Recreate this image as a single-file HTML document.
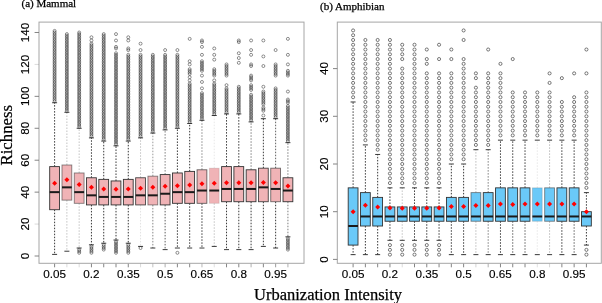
<!DOCTYPE html>
<html><head><meta charset="utf-8"><style>
html,body{margin:0;padding:0;background:#fff;width:602px;height:303px;overflow:hidden}
svg{display:block}
svg{will-change:transform;filter:blur(0.3px)}
</style></head><body>
<svg width="602" height="303" viewBox="0 0 602 303">
<rect width="602" height="303" fill="#fff"/>
<g fill="none" stroke="#222" stroke-width="0.5"><circle cx="54.6" cy="101.14" r="1.5"/><circle cx="54.6" cy="99.54" r="1.5"/><circle cx="54.6" cy="97.95" r="1.5"/><circle cx="54.6" cy="96.35" r="1.5"/><circle cx="54.6" cy="94.75" r="1.5"/><circle cx="54.6" cy="93.16" r="1.5"/><circle cx="54.6" cy="91.56" r="1.5"/><circle cx="54.6" cy="89.96" r="1.5"/><circle cx="54.6" cy="88.37" r="1.5"/><circle cx="54.6" cy="86.77" r="1.5"/><circle cx="54.6" cy="85.17" r="1.5"/><circle cx="54.6" cy="83.58" r="1.5"/><circle cx="54.6" cy="81.98" r="1.5"/><circle cx="54.6" cy="80.38" r="1.5"/><circle cx="54.6" cy="78.79" r="1.5"/><circle cx="54.6" cy="77.19" r="1.5"/><circle cx="54.6" cy="75.6" r="1.5"/><circle cx="54.6" cy="74" r="1.5"/><circle cx="54.6" cy="72.4" r="1.5"/><circle cx="54.6" cy="70.81" r="1.5"/><circle cx="54.6" cy="69.21" r="1.5"/><circle cx="54.6" cy="67.61" r="1.5"/><circle cx="54.6" cy="66.02" r="1.5"/><circle cx="54.6" cy="64.42" r="1.5"/><circle cx="54.6" cy="62.82" r="1.5"/><circle cx="54.6" cy="61.23" r="1.5"/><circle cx="54.6" cy="59.63" r="1.5"/><circle cx="54.6" cy="58.03" r="1.5"/><circle cx="54.6" cy="56.44" r="1.5"/><circle cx="54.6" cy="54.84" r="1.5"/><circle cx="54.6" cy="53.24" r="1.5"/><circle cx="54.6" cy="51.65" r="1.5"/><circle cx="54.6" cy="50.05" r="1.5"/><circle cx="54.6" cy="48.45" r="1.5"/><circle cx="54.6" cy="46.86" r="1.5"/><circle cx="54.6" cy="45.26" r="1.5"/><circle cx="54.6" cy="43.67" r="1.5"/><circle cx="54.6" cy="42.07" r="1.5"/><circle cx="54.6" cy="40.47" r="1.5"/><circle cx="54.6" cy="38.88" r="1.5"/><circle cx="54.6" cy="37.28" r="1.5"/><circle cx="54.6" cy="35.68" r="1.5"/><circle cx="54.6" cy="34.09" r="1.5"/><circle cx="54.6" cy="32.49" r="1.5"/><circle cx="54.6" cy="30.89" r="1.5"/><circle cx="66.88" cy="110.72" r="1.5"/><circle cx="66.88" cy="109.12" r="1.5"/><circle cx="66.88" cy="107.53" r="1.5"/><circle cx="66.88" cy="105.93" r="1.5"/><circle cx="66.88" cy="104.33" r="1.5"/><circle cx="66.88" cy="102.74" r="1.5"/><circle cx="66.88" cy="101.14" r="1.5"/><circle cx="66.88" cy="99.54" r="1.5"/><circle cx="66.88" cy="97.95" r="1.5"/><circle cx="66.88" cy="96.35" r="1.5"/><circle cx="66.88" cy="94.75" r="1.5"/><circle cx="66.88" cy="93.16" r="1.5"/><circle cx="66.88" cy="91.56" r="1.5"/><circle cx="66.88" cy="89.96" r="1.5"/><circle cx="66.88" cy="88.37" r="1.5"/><circle cx="66.88" cy="86.77" r="1.5"/><circle cx="66.88" cy="85.17" r="1.5"/><circle cx="66.88" cy="83.58" r="1.5"/><circle cx="66.88" cy="81.98" r="1.5"/><circle cx="66.88" cy="80.38" r="1.5"/><circle cx="66.88" cy="78.79" r="1.5"/><circle cx="66.88" cy="77.19" r="1.5"/><circle cx="66.88" cy="75.6" r="1.5"/><circle cx="66.88" cy="74" r="1.5"/><circle cx="66.88" cy="72.4" r="1.5"/><circle cx="66.88" cy="70.81" r="1.5"/><circle cx="66.88" cy="69.21" r="1.5"/><circle cx="66.88" cy="67.61" r="1.5"/><circle cx="66.88" cy="66.02" r="1.5"/><circle cx="66.88" cy="64.42" r="1.5"/><circle cx="66.88" cy="62.82" r="1.5"/><circle cx="66.88" cy="61.23" r="1.5"/><circle cx="66.88" cy="59.63" r="1.5"/><circle cx="66.88" cy="58.03" r="1.5"/><circle cx="66.88" cy="56.44" r="1.5"/><circle cx="66.88" cy="54.84" r="1.5"/><circle cx="66.88" cy="53.24" r="1.5"/><circle cx="66.88" cy="51.65" r="1.5"/><circle cx="66.88" cy="50.05" r="1.5"/><circle cx="66.88" cy="48.45" r="1.5"/><circle cx="66.88" cy="46.86" r="1.5"/><circle cx="66.88" cy="45.26" r="1.5"/><circle cx="66.88" cy="43.67" r="1.5"/><circle cx="66.88" cy="42.07" r="1.5"/><circle cx="66.88" cy="40.47" r="1.5"/><circle cx="66.88" cy="38.88" r="1.5"/><circle cx="66.88" cy="37.28" r="1.5"/><circle cx="66.88" cy="35.68" r="1.5"/><circle cx="66.88" cy="34.09" r="1.5"/><circle cx="79.16" cy="126.68" r="1.5"/><circle cx="79.16" cy="125.09" r="1.5"/><circle cx="79.16" cy="123.49" r="1.5"/><circle cx="79.16" cy="121.89" r="1.5"/><circle cx="79.16" cy="120.3" r="1.5"/><circle cx="79.16" cy="118.7" r="1.5"/><circle cx="79.16" cy="117.1" r="1.5"/><circle cx="79.16" cy="115.51" r="1.5"/><circle cx="79.16" cy="113.91" r="1.5"/><circle cx="79.16" cy="112.31" r="1.5"/><circle cx="79.16" cy="110.72" r="1.5"/><circle cx="79.16" cy="109.12" r="1.5"/><circle cx="79.16" cy="107.53" r="1.5"/><circle cx="79.16" cy="105.93" r="1.5"/><circle cx="79.16" cy="104.33" r="1.5"/><circle cx="79.16" cy="102.74" r="1.5"/><circle cx="79.16" cy="101.14" r="1.5"/><circle cx="79.16" cy="99.54" r="1.5"/><circle cx="79.16" cy="97.95" r="1.5"/><circle cx="79.16" cy="96.35" r="1.5"/><circle cx="79.16" cy="94.75" r="1.5"/><circle cx="79.16" cy="93.16" r="1.5"/><circle cx="79.16" cy="91.56" r="1.5"/><circle cx="79.16" cy="89.96" r="1.5"/><circle cx="79.16" cy="88.37" r="1.5"/><circle cx="79.16" cy="86.77" r="1.5"/><circle cx="79.16" cy="85.17" r="1.5"/><circle cx="79.16" cy="83.58" r="1.5"/><circle cx="79.16" cy="81.98" r="1.5"/><circle cx="79.16" cy="80.38" r="1.5"/><circle cx="79.16" cy="78.79" r="1.5"/><circle cx="79.16" cy="77.19" r="1.5"/><circle cx="79.16" cy="75.6" r="1.5"/><circle cx="79.16" cy="74" r="1.5"/><circle cx="79.16" cy="72.4" r="1.5"/><circle cx="79.16" cy="70.81" r="1.5"/><circle cx="79.16" cy="69.21" r="1.5"/><circle cx="79.16" cy="67.61" r="1.5"/><circle cx="79.16" cy="66.02" r="1.5"/><circle cx="79.16" cy="64.42" r="1.5"/><circle cx="79.16" cy="62.82" r="1.5"/><circle cx="79.16" cy="61.23" r="1.5"/><circle cx="79.16" cy="59.63" r="1.5"/><circle cx="79.16" cy="58.03" r="1.5"/><circle cx="79.16" cy="56.44" r="1.5"/><circle cx="79.16" cy="54.84" r="1.5"/><circle cx="79.16" cy="53.24" r="1.5"/><circle cx="79.16" cy="51.65" r="1.5"/><circle cx="79.16" cy="50.05" r="1.5"/><circle cx="79.16" cy="48.45" r="1.5"/><circle cx="79.16" cy="46.86" r="1.5"/><circle cx="79.16" cy="45.26" r="1.5"/><circle cx="79.16" cy="43.67" r="1.5"/><circle cx="79.16" cy="42.07" r="1.5"/><circle cx="79.16" cy="40.47" r="1.5"/><circle cx="79.16" cy="38.88" r="1.5"/><circle cx="79.16" cy="37.28" r="1.5"/><circle cx="79.16" cy="35.68" r="1.5"/><circle cx="79.16" cy="34.09" r="1.5"/><circle cx="79.16" cy="32.49" r="1.5"/><circle cx="79.16" cy="252.81" r="1.5"/><circle cx="79.16" cy="251.21" r="1.5"/><circle cx="79.16" cy="249.61" r="1.5"/><circle cx="91.44" cy="136.26" r="1.5"/><circle cx="91.44" cy="134.67" r="1.5"/><circle cx="91.44" cy="133.07" r="1.5"/><circle cx="91.44" cy="131.47" r="1.5"/><circle cx="91.44" cy="129.88" r="1.5"/><circle cx="91.44" cy="128.28" r="1.5"/><circle cx="91.44" cy="126.68" r="1.5"/><circle cx="91.44" cy="125.09" r="1.5"/><circle cx="91.44" cy="123.49" r="1.5"/><circle cx="91.44" cy="121.89" r="1.5"/><circle cx="91.44" cy="120.3" r="1.5"/><circle cx="91.44" cy="118.7" r="1.5"/><circle cx="91.44" cy="117.1" r="1.5"/><circle cx="91.44" cy="115.51" r="1.5"/><circle cx="91.44" cy="113.91" r="1.5"/><circle cx="91.44" cy="112.31" r="1.5"/><circle cx="91.44" cy="110.72" r="1.5"/><circle cx="91.44" cy="109.12" r="1.5"/><circle cx="91.44" cy="107.53" r="1.5"/><circle cx="91.44" cy="105.93" r="1.5"/><circle cx="91.44" cy="104.33" r="1.5"/><circle cx="91.44" cy="102.74" r="1.5"/><circle cx="91.44" cy="101.14" r="1.5"/><circle cx="91.44" cy="99.54" r="1.5"/><circle cx="91.44" cy="97.95" r="1.5"/><circle cx="91.44" cy="96.35" r="1.5"/><circle cx="91.44" cy="94.75" r="1.5"/><circle cx="91.44" cy="93.16" r="1.5"/><circle cx="91.44" cy="91.56" r="1.5"/><circle cx="91.44" cy="89.96" r="1.5"/><circle cx="91.44" cy="88.37" r="1.5"/><circle cx="91.44" cy="86.77" r="1.5"/><circle cx="91.44" cy="85.17" r="1.5"/><circle cx="91.44" cy="83.58" r="1.5"/><circle cx="91.44" cy="81.98" r="1.5"/><circle cx="91.44" cy="80.38" r="1.5"/><circle cx="91.44" cy="78.79" r="1.5"/><circle cx="91.44" cy="77.19" r="1.5"/><circle cx="91.44" cy="75.6" r="1.5"/><circle cx="91.44" cy="74" r="1.5"/><circle cx="91.44" cy="72.4" r="1.5"/><circle cx="91.44" cy="70.81" r="1.5"/><circle cx="91.44" cy="69.21" r="1.5"/><circle cx="91.44" cy="67.61" r="1.5"/><circle cx="91.44" cy="66.02" r="1.5"/><circle cx="91.44" cy="64.42" r="1.5"/><circle cx="91.44" cy="62.82" r="1.5"/><circle cx="91.44" cy="61.23" r="1.5"/><circle cx="91.44" cy="59.63" r="1.5"/><circle cx="91.44" cy="58.03" r="1.5"/><circle cx="91.44" cy="56.44" r="1.5"/><circle cx="91.44" cy="54.84" r="1.5"/><circle cx="91.44" cy="53.24" r="1.5"/><circle cx="91.44" cy="51.65" r="1.5"/><circle cx="91.44" cy="50.05" r="1.5"/><circle cx="91.44" cy="48.45" r="1.5"/><circle cx="91.44" cy="46.86" r="1.5"/><circle cx="91.44" cy="45.26" r="1.5"/><circle cx="91.44" cy="43.67" r="1.5"/><circle cx="91.44" cy="40.47" r="1.5"/><circle cx="91.44" cy="37.28" r="1.5"/><circle cx="91.44" cy="252.81" r="1.5"/><circle cx="91.44" cy="251.21" r="1.5"/><circle cx="91.44" cy="249.61" r="1.5"/><circle cx="91.44" cy="248.02" r="1.5"/><circle cx="91.44" cy="246.42" r="1.5"/><circle cx="103.72" cy="139.46" r="1.5"/><circle cx="103.72" cy="137.86" r="1.5"/><circle cx="103.72" cy="136.26" r="1.5"/><circle cx="103.72" cy="134.67" r="1.5"/><circle cx="103.72" cy="133.07" r="1.5"/><circle cx="103.72" cy="131.47" r="1.5"/><circle cx="103.72" cy="129.88" r="1.5"/><circle cx="103.72" cy="128.28" r="1.5"/><circle cx="103.72" cy="126.68" r="1.5"/><circle cx="103.72" cy="125.09" r="1.5"/><circle cx="103.72" cy="123.49" r="1.5"/><circle cx="103.72" cy="121.89" r="1.5"/><circle cx="103.72" cy="120.3" r="1.5"/><circle cx="103.72" cy="118.7" r="1.5"/><circle cx="103.72" cy="117.1" r="1.5"/><circle cx="103.72" cy="115.51" r="1.5"/><circle cx="103.72" cy="113.91" r="1.5"/><circle cx="103.72" cy="112.31" r="1.5"/><circle cx="103.72" cy="110.72" r="1.5"/><circle cx="103.72" cy="109.12" r="1.5"/><circle cx="103.72" cy="107.53" r="1.5"/><circle cx="103.72" cy="105.93" r="1.5"/><circle cx="103.72" cy="104.33" r="1.5"/><circle cx="103.72" cy="102.74" r="1.5"/><circle cx="103.72" cy="101.14" r="1.5"/><circle cx="103.72" cy="99.54" r="1.5"/><circle cx="103.72" cy="97.95" r="1.5"/><circle cx="103.72" cy="96.35" r="1.5"/><circle cx="103.72" cy="94.75" r="1.5"/><circle cx="103.72" cy="93.16" r="1.5"/><circle cx="103.72" cy="91.56" r="1.5"/><circle cx="103.72" cy="89.96" r="1.5"/><circle cx="103.72" cy="88.37" r="1.5"/><circle cx="103.72" cy="86.77" r="1.5"/><circle cx="103.72" cy="85.17" r="1.5"/><circle cx="103.72" cy="83.58" r="1.5"/><circle cx="103.72" cy="81.98" r="1.5"/><circle cx="103.72" cy="80.38" r="1.5"/><circle cx="103.72" cy="78.79" r="1.5"/><circle cx="103.72" cy="77.19" r="1.5"/><circle cx="103.72" cy="75.6" r="1.5"/><circle cx="103.72" cy="74" r="1.5"/><circle cx="103.72" cy="72.4" r="1.5"/><circle cx="103.72" cy="70.81" r="1.5"/><circle cx="103.72" cy="69.21" r="1.5"/><circle cx="103.72" cy="67.61" r="1.5"/><circle cx="103.72" cy="66.02" r="1.5"/><circle cx="103.72" cy="64.42" r="1.5"/><circle cx="103.72" cy="62.82" r="1.5"/><circle cx="103.72" cy="61.23" r="1.5"/><circle cx="103.72" cy="59.63" r="1.5"/><circle cx="103.72" cy="58.03" r="1.5"/><circle cx="103.72" cy="56.44" r="1.5"/><circle cx="103.72" cy="54.84" r="1.5"/><circle cx="103.72" cy="53.24" r="1.5"/><circle cx="103.72" cy="51.65" r="1.5"/><circle cx="103.72" cy="50.05" r="1.5"/><circle cx="103.72" cy="48.45" r="1.5"/><circle cx="103.72" cy="46.86" r="1.5"/><circle cx="103.72" cy="45.26" r="1.5"/><circle cx="103.72" cy="43.67" r="1.5"/><circle cx="103.72" cy="42.07" r="1.5"/><circle cx="103.72" cy="40.47" r="1.5"/><circle cx="103.72" cy="38.88" r="1.5"/><circle cx="103.72" cy="37.28" r="1.5"/><circle cx="103.72" cy="35.68" r="1.5"/><circle cx="103.72" cy="34.09" r="1.5"/><circle cx="103.72" cy="249.61" r="1.5"/><circle cx="103.72" cy="248.02" r="1.5"/><circle cx="103.72" cy="246.42" r="1.5"/><circle cx="103.72" cy="244.82" r="1.5"/><circle cx="116" cy="34.09" r="1.5"/><circle cx="116" cy="40.47" r="1.5"/><circle cx="116" cy="46.86" r="1.5"/><circle cx="116" cy="48.45" r="1.5"/><circle cx="116" cy="144.25" r="1.5"/><circle cx="116" cy="142.65" r="1.5"/><circle cx="116" cy="141.05" r="1.5"/><circle cx="116" cy="139.46" r="1.5"/><circle cx="116" cy="137.86" r="1.5"/><circle cx="116" cy="136.26" r="1.5"/><circle cx="116" cy="134.67" r="1.5"/><circle cx="116" cy="133.07" r="1.5"/><circle cx="116" cy="131.47" r="1.5"/><circle cx="116" cy="129.88" r="1.5"/><circle cx="116" cy="128.28" r="1.5"/><circle cx="116" cy="126.68" r="1.5"/><circle cx="116" cy="125.09" r="1.5"/><circle cx="116" cy="123.49" r="1.5"/><circle cx="116" cy="121.89" r="1.5"/><circle cx="116" cy="120.3" r="1.5"/><circle cx="116" cy="118.7" r="1.5"/><circle cx="116" cy="117.1" r="1.5"/><circle cx="116" cy="115.51" r="1.5"/><circle cx="116" cy="113.91" r="1.5"/><circle cx="116" cy="112.31" r="1.5"/><circle cx="116" cy="110.72" r="1.5"/><circle cx="116" cy="109.12" r="1.5"/><circle cx="116" cy="107.53" r="1.5"/><circle cx="116" cy="105.93" r="1.5"/><circle cx="116" cy="104.33" r="1.5"/><circle cx="116" cy="102.74" r="1.5"/><circle cx="116" cy="101.14" r="1.5"/><circle cx="116" cy="99.54" r="1.5"/><circle cx="116" cy="97.95" r="1.5"/><circle cx="116" cy="96.35" r="1.5"/><circle cx="116" cy="94.75" r="1.5"/><circle cx="116" cy="93.16" r="1.5"/><circle cx="116" cy="91.56" r="1.5"/><circle cx="116" cy="89.96" r="1.5"/><circle cx="116" cy="88.37" r="1.5"/><circle cx="116" cy="86.77" r="1.5"/><circle cx="116" cy="85.17" r="1.5"/><circle cx="116" cy="83.58" r="1.5"/><circle cx="116" cy="81.98" r="1.5"/><circle cx="116" cy="80.38" r="1.5"/><circle cx="116" cy="78.79" r="1.5"/><circle cx="116" cy="77.19" r="1.5"/><circle cx="116" cy="75.6" r="1.5"/><circle cx="116" cy="74" r="1.5"/><circle cx="116" cy="72.4" r="1.5"/><circle cx="116" cy="70.81" r="1.5"/><circle cx="116" cy="69.21" r="1.5"/><circle cx="116" cy="67.61" r="1.5"/><circle cx="116" cy="66.02" r="1.5"/><circle cx="116" cy="64.42" r="1.5"/><circle cx="116" cy="62.82" r="1.5"/><circle cx="116" cy="61.23" r="1.5"/><circle cx="116" cy="59.63" r="1.5"/><circle cx="116" cy="58.03" r="1.5"/><circle cx="116" cy="56.44" r="1.5"/><circle cx="116" cy="54.84" r="1.5"/><circle cx="116" cy="53.24" r="1.5"/><circle cx="116" cy="252.81" r="1.5"/><circle cx="116" cy="251.21" r="1.5"/><circle cx="116" cy="249.61" r="1.5"/><circle cx="116" cy="248.02" r="1.5"/><circle cx="116" cy="246.42" r="1.5"/><circle cx="116" cy="244.82" r="1.5"/><circle cx="116" cy="243.23" r="1.5"/><circle cx="116" cy="241.63" r="1.5"/><circle cx="128.28" cy="37.28" r="1.5"/><circle cx="128.28" cy="40.47" r="1.5"/><circle cx="128.28" cy="48.45" r="1.5"/><circle cx="128.28" cy="50.05" r="1.5"/><circle cx="128.28" cy="139.46" r="1.5"/><circle cx="128.28" cy="137.86" r="1.5"/><circle cx="128.28" cy="136.26" r="1.5"/><circle cx="128.28" cy="134.67" r="1.5"/><circle cx="128.28" cy="133.07" r="1.5"/><circle cx="128.28" cy="131.47" r="1.5"/><circle cx="128.28" cy="129.88" r="1.5"/><circle cx="128.28" cy="128.28" r="1.5"/><circle cx="128.28" cy="126.68" r="1.5"/><circle cx="128.28" cy="125.09" r="1.5"/><circle cx="128.28" cy="123.49" r="1.5"/><circle cx="128.28" cy="121.89" r="1.5"/><circle cx="128.28" cy="120.3" r="1.5"/><circle cx="128.28" cy="118.7" r="1.5"/><circle cx="128.28" cy="117.1" r="1.5"/><circle cx="128.28" cy="115.51" r="1.5"/><circle cx="128.28" cy="113.91" r="1.5"/><circle cx="128.28" cy="112.31" r="1.5"/><circle cx="128.28" cy="110.72" r="1.5"/><circle cx="128.28" cy="109.12" r="1.5"/><circle cx="128.28" cy="107.53" r="1.5"/><circle cx="128.28" cy="105.93" r="1.5"/><circle cx="128.28" cy="104.33" r="1.5"/><circle cx="128.28" cy="102.74" r="1.5"/><circle cx="128.28" cy="101.14" r="1.5"/><circle cx="128.28" cy="99.54" r="1.5"/><circle cx="128.28" cy="97.95" r="1.5"/><circle cx="128.28" cy="96.35" r="1.5"/><circle cx="128.28" cy="94.75" r="1.5"/><circle cx="128.28" cy="93.16" r="1.5"/><circle cx="128.28" cy="91.56" r="1.5"/><circle cx="128.28" cy="89.96" r="1.5"/><circle cx="128.28" cy="88.37" r="1.5"/><circle cx="128.28" cy="86.77" r="1.5"/><circle cx="128.28" cy="85.17" r="1.5"/><circle cx="128.28" cy="83.58" r="1.5"/><circle cx="128.28" cy="81.98" r="1.5"/><circle cx="128.28" cy="80.38" r="1.5"/><circle cx="128.28" cy="78.79" r="1.5"/><circle cx="128.28" cy="77.19" r="1.5"/><circle cx="128.28" cy="75.6" r="1.5"/><circle cx="128.28" cy="74" r="1.5"/><circle cx="128.28" cy="72.4" r="1.5"/><circle cx="128.28" cy="70.81" r="1.5"/><circle cx="128.28" cy="69.21" r="1.5"/><circle cx="128.28" cy="67.61" r="1.5"/><circle cx="128.28" cy="66.02" r="1.5"/><circle cx="128.28" cy="64.42" r="1.5"/><circle cx="128.28" cy="62.82" r="1.5"/><circle cx="128.28" cy="61.23" r="1.5"/><circle cx="128.28" cy="59.63" r="1.5"/><circle cx="128.28" cy="58.03" r="1.5"/><circle cx="128.28" cy="56.44" r="1.5"/><circle cx="128.28" cy="54.84" r="1.5"/><circle cx="128.28" cy="252.81" r="1.5"/><circle cx="128.28" cy="251.21" r="1.5"/><circle cx="128.28" cy="249.61" r="1.5"/><circle cx="128.28" cy="248.02" r="1.5"/><circle cx="128.28" cy="246.42" r="1.5"/><circle cx="128.28" cy="244.82" r="1.5"/><circle cx="140.56" cy="43.67" r="1.5"/><circle cx="140.56" cy="50.05" r="1.5"/><circle cx="140.56" cy="136.26" r="1.5"/><circle cx="140.56" cy="134.67" r="1.5"/><circle cx="140.56" cy="133.07" r="1.5"/><circle cx="140.56" cy="131.47" r="1.5"/><circle cx="140.56" cy="129.88" r="1.5"/><circle cx="140.56" cy="128.28" r="1.5"/><circle cx="140.56" cy="126.68" r="1.5"/><circle cx="140.56" cy="125.09" r="1.5"/><circle cx="140.56" cy="123.49" r="1.5"/><circle cx="140.56" cy="121.89" r="1.5"/><circle cx="140.56" cy="120.3" r="1.5"/><circle cx="140.56" cy="118.7" r="1.5"/><circle cx="140.56" cy="117.1" r="1.5"/><circle cx="140.56" cy="115.51" r="1.5"/><circle cx="140.56" cy="113.91" r="1.5"/><circle cx="140.56" cy="112.31" r="1.5"/><circle cx="140.56" cy="110.72" r="1.5"/><circle cx="140.56" cy="109.12" r="1.5"/><circle cx="140.56" cy="107.53" r="1.5"/><circle cx="140.56" cy="105.93" r="1.5"/><circle cx="140.56" cy="104.33" r="1.5"/><circle cx="140.56" cy="102.74" r="1.5"/><circle cx="140.56" cy="101.14" r="1.5"/><circle cx="140.56" cy="99.54" r="1.5"/><circle cx="140.56" cy="97.95" r="1.5"/><circle cx="140.56" cy="96.35" r="1.5"/><circle cx="140.56" cy="94.75" r="1.5"/><circle cx="140.56" cy="93.16" r="1.5"/><circle cx="140.56" cy="91.56" r="1.5"/><circle cx="140.56" cy="89.96" r="1.5"/><circle cx="140.56" cy="88.37" r="1.5"/><circle cx="140.56" cy="86.77" r="1.5"/><circle cx="140.56" cy="85.17" r="1.5"/><circle cx="140.56" cy="83.58" r="1.5"/><circle cx="140.56" cy="81.98" r="1.5"/><circle cx="140.56" cy="80.38" r="1.5"/><circle cx="140.56" cy="78.79" r="1.5"/><circle cx="140.56" cy="77.19" r="1.5"/><circle cx="140.56" cy="75.6" r="1.5"/><circle cx="140.56" cy="74" r="1.5"/><circle cx="140.56" cy="72.4" r="1.5"/><circle cx="140.56" cy="70.81" r="1.5"/><circle cx="140.56" cy="69.21" r="1.5"/><circle cx="140.56" cy="67.61" r="1.5"/><circle cx="140.56" cy="66.02" r="1.5"/><circle cx="140.56" cy="64.42" r="1.5"/><circle cx="140.56" cy="62.82" r="1.5"/><circle cx="140.56" cy="61.23" r="1.5"/><circle cx="140.56" cy="59.63" r="1.5"/><circle cx="140.56" cy="58.03" r="1.5"/><circle cx="140.56" cy="56.44" r="1.5"/><circle cx="140.56" cy="54.84" r="1.5"/><circle cx="140.56" cy="248.02" r="1.5"/><circle cx="152.84" cy="131.47" r="1.5"/><circle cx="152.84" cy="129.88" r="1.5"/><circle cx="152.84" cy="128.28" r="1.5"/><circle cx="152.84" cy="126.68" r="1.5"/><circle cx="152.84" cy="125.09" r="1.5"/><circle cx="152.84" cy="123.49" r="1.5"/><circle cx="152.84" cy="121.89" r="1.5"/><circle cx="152.84" cy="120.3" r="1.5"/><circle cx="152.84" cy="118.7" r="1.5"/><circle cx="152.84" cy="117.1" r="1.5"/><circle cx="152.84" cy="115.51" r="1.5"/><circle cx="152.84" cy="113.91" r="1.5"/><circle cx="152.84" cy="112.31" r="1.5"/><circle cx="152.84" cy="110.72" r="1.5"/><circle cx="152.84" cy="109.12" r="1.5"/><circle cx="152.84" cy="107.53" r="1.5"/><circle cx="152.84" cy="105.93" r="1.5"/><circle cx="152.84" cy="104.33" r="1.5"/><circle cx="152.84" cy="102.74" r="1.5"/><circle cx="152.84" cy="101.14" r="1.5"/><circle cx="152.84" cy="99.54" r="1.5"/><circle cx="152.84" cy="97.95" r="1.5"/><circle cx="152.84" cy="96.35" r="1.5"/><circle cx="152.84" cy="94.75" r="1.5"/><circle cx="152.84" cy="93.16" r="1.5"/><circle cx="152.84" cy="91.56" r="1.5"/><circle cx="152.84" cy="89.96" r="1.5"/><circle cx="152.84" cy="88.37" r="1.5"/><circle cx="152.84" cy="86.77" r="1.5"/><circle cx="152.84" cy="85.17" r="1.5"/><circle cx="152.84" cy="83.58" r="1.5"/><circle cx="152.84" cy="81.98" r="1.5"/><circle cx="152.84" cy="80.38" r="1.5"/><circle cx="152.84" cy="78.79" r="1.5"/><circle cx="152.84" cy="77.19" r="1.5"/><circle cx="152.84" cy="75.6" r="1.5"/><circle cx="152.84" cy="74" r="1.5"/><circle cx="152.84" cy="72.4" r="1.5"/><circle cx="152.84" cy="70.81" r="1.5"/><circle cx="152.84" cy="69.21" r="1.5"/><circle cx="152.84" cy="67.61" r="1.5"/><circle cx="152.84" cy="66.02" r="1.5"/><circle cx="152.84" cy="64.42" r="1.5"/><circle cx="152.84" cy="62.82" r="1.5"/><circle cx="152.84" cy="61.23" r="1.5"/><circle cx="152.84" cy="59.63" r="1.5"/><circle cx="152.84" cy="58.03" r="1.5"/><circle cx="152.84" cy="56.44" r="1.5"/><circle cx="152.84" cy="54.84" r="1.5"/><circle cx="165.12" cy="50.05" r="1.5"/><circle cx="165.12" cy="128.28" r="1.5"/><circle cx="165.12" cy="126.68" r="1.5"/><circle cx="165.12" cy="125.09" r="1.5"/><circle cx="165.12" cy="123.49" r="1.5"/><circle cx="165.12" cy="121.89" r="1.5"/><circle cx="165.12" cy="120.3" r="1.5"/><circle cx="165.12" cy="118.7" r="1.5"/><circle cx="165.12" cy="117.1" r="1.5"/><circle cx="165.12" cy="115.51" r="1.5"/><circle cx="165.12" cy="113.91" r="1.5"/><circle cx="165.12" cy="112.31" r="1.5"/><circle cx="165.12" cy="110.72" r="1.5"/><circle cx="165.12" cy="109.12" r="1.5"/><circle cx="165.12" cy="107.53" r="1.5"/><circle cx="165.12" cy="105.93" r="1.5"/><circle cx="165.12" cy="104.33" r="1.5"/><circle cx="165.12" cy="102.74" r="1.5"/><circle cx="165.12" cy="101.14" r="1.5"/><circle cx="165.12" cy="99.54" r="1.5"/><circle cx="165.12" cy="97.95" r="1.5"/><circle cx="165.12" cy="96.35" r="1.5"/><circle cx="165.12" cy="94.75" r="1.5"/><circle cx="165.12" cy="93.16" r="1.5"/><circle cx="165.12" cy="91.56" r="1.5"/><circle cx="165.12" cy="89.96" r="1.5"/><circle cx="165.12" cy="88.37" r="1.5"/><circle cx="165.12" cy="86.77" r="1.5"/><circle cx="165.12" cy="85.17" r="1.5"/><circle cx="165.12" cy="83.58" r="1.5"/><circle cx="165.12" cy="81.98" r="1.5"/><circle cx="165.12" cy="80.38" r="1.5"/><circle cx="165.12" cy="78.79" r="1.5"/><circle cx="165.12" cy="77.19" r="1.5"/><circle cx="165.12" cy="75.6" r="1.5"/><circle cx="165.12" cy="74" r="1.5"/><circle cx="165.12" cy="72.4" r="1.5"/><circle cx="165.12" cy="70.81" r="1.5"/><circle cx="165.12" cy="69.21" r="1.5"/><circle cx="165.12" cy="67.61" r="1.5"/><circle cx="165.12" cy="66.02" r="1.5"/><circle cx="165.12" cy="64.42" r="1.5"/><circle cx="165.12" cy="62.82" r="1.5"/><circle cx="165.12" cy="61.23" r="1.5"/><circle cx="165.12" cy="59.63" r="1.5"/><circle cx="165.12" cy="58.03" r="1.5"/><circle cx="165.12" cy="56.44" r="1.5"/><circle cx="165.12" cy="54.84" r="1.5"/><circle cx="177.4" cy="50.05" r="1.5"/><circle cx="177.4" cy="126.68" r="1.5"/><circle cx="177.4" cy="125.09" r="1.5"/><circle cx="177.4" cy="123.49" r="1.5"/><circle cx="177.4" cy="121.89" r="1.5"/><circle cx="177.4" cy="120.3" r="1.5"/><circle cx="177.4" cy="118.7" r="1.5"/><circle cx="177.4" cy="117.1" r="1.5"/><circle cx="177.4" cy="115.51" r="1.5"/><circle cx="177.4" cy="113.91" r="1.5"/><circle cx="177.4" cy="112.31" r="1.5"/><circle cx="177.4" cy="110.72" r="1.5"/><circle cx="177.4" cy="109.12" r="1.5"/><circle cx="177.4" cy="107.53" r="1.5"/><circle cx="177.4" cy="105.93" r="1.5"/><circle cx="177.4" cy="104.33" r="1.5"/><circle cx="177.4" cy="102.74" r="1.5"/><circle cx="177.4" cy="101.14" r="1.5"/><circle cx="177.4" cy="99.54" r="1.5"/><circle cx="177.4" cy="97.95" r="1.5"/><circle cx="177.4" cy="96.35" r="1.5"/><circle cx="177.4" cy="94.75" r="1.5"/><circle cx="177.4" cy="93.16" r="1.5"/><circle cx="177.4" cy="91.56" r="1.5"/><circle cx="177.4" cy="89.96" r="1.5"/><circle cx="177.4" cy="88.37" r="1.5"/><circle cx="177.4" cy="86.77" r="1.5"/><circle cx="177.4" cy="85.17" r="1.5"/><circle cx="177.4" cy="83.58" r="1.5"/><circle cx="177.4" cy="81.98" r="1.5"/><circle cx="177.4" cy="80.38" r="1.5"/><circle cx="177.4" cy="78.79" r="1.5"/><circle cx="177.4" cy="77.19" r="1.5"/><circle cx="177.4" cy="75.6" r="1.5"/><circle cx="177.4" cy="74" r="1.5"/><circle cx="177.4" cy="72.4" r="1.5"/><circle cx="177.4" cy="70.81" r="1.5"/><circle cx="177.4" cy="69.21" r="1.5"/><circle cx="177.4" cy="67.61" r="1.5"/><circle cx="177.4" cy="66.02" r="1.5"/><circle cx="177.4" cy="64.42" r="1.5"/><circle cx="177.4" cy="62.82" r="1.5"/><circle cx="177.4" cy="61.23" r="1.5"/><circle cx="177.4" cy="59.63" r="1.5"/><circle cx="177.4" cy="58.03" r="1.5"/><circle cx="177.4" cy="56.44" r="1.5"/><circle cx="177.4" cy="54.84" r="1.5"/><circle cx="177.4" cy="252.81" r="1.5"/><circle cx="189.68" cy="38.88" r="1.5"/><circle cx="189.68" cy="61.23" r="1.5"/><circle cx="189.68" cy="64.42" r="1.5"/><circle cx="189.68" cy="74" r="1.5"/><circle cx="189.68" cy="72.4" r="1.5"/><circle cx="189.68" cy="70.81" r="1.5"/><circle cx="189.68" cy="69.21" r="1.5"/><circle cx="189.68" cy="77.19" r="1.5"/><circle cx="189.68" cy="80.38" r="1.5"/><circle cx="189.68" cy="83.58" r="1.5"/><circle cx="189.68" cy="121.89" r="1.5"/><circle cx="189.68" cy="120.3" r="1.5"/><circle cx="189.68" cy="118.7" r="1.5"/><circle cx="189.68" cy="117.1" r="1.5"/><circle cx="189.68" cy="115.51" r="1.5"/><circle cx="189.68" cy="113.91" r="1.5"/><circle cx="189.68" cy="112.31" r="1.5"/><circle cx="189.68" cy="110.72" r="1.5"/><circle cx="189.68" cy="109.12" r="1.5"/><circle cx="189.68" cy="107.53" r="1.5"/><circle cx="189.68" cy="105.93" r="1.5"/><circle cx="189.68" cy="104.33" r="1.5"/><circle cx="189.68" cy="102.74" r="1.5"/><circle cx="189.68" cy="101.14" r="1.5"/><circle cx="189.68" cy="99.54" r="1.5"/><circle cx="189.68" cy="97.95" r="1.5"/><circle cx="189.68" cy="96.35" r="1.5"/><circle cx="189.68" cy="94.75" r="1.5"/><circle cx="189.68" cy="93.16" r="1.5"/><circle cx="189.68" cy="91.56" r="1.5"/><circle cx="189.68" cy="89.96" r="1.5"/><circle cx="189.68" cy="88.37" r="1.5"/><circle cx="189.68" cy="86.77" r="1.5"/><circle cx="189.68" cy="85.17" r="1.5"/><circle cx="201.96" cy="40.47" r="1.5"/><circle cx="201.96" cy="42.07" r="1.5"/><circle cx="201.96" cy="46.86" r="1.5"/><circle cx="201.96" cy="54.84" r="1.5"/><circle cx="201.96" cy="70.81" r="1.5"/><circle cx="201.96" cy="69.21" r="1.5"/><circle cx="201.96" cy="67.61" r="1.5"/><circle cx="201.96" cy="66.02" r="1.5"/><circle cx="201.96" cy="64.42" r="1.5"/><circle cx="201.96" cy="62.82" r="1.5"/><circle cx="201.96" cy="61.23" r="1.5"/><circle cx="201.96" cy="75.6" r="1.5"/><circle cx="201.96" cy="81.98" r="1.5"/><circle cx="201.96" cy="88.37" r="1.5"/><circle cx="201.96" cy="118.7" r="1.5"/><circle cx="201.96" cy="117.1" r="1.5"/><circle cx="201.96" cy="115.51" r="1.5"/><circle cx="201.96" cy="113.91" r="1.5"/><circle cx="201.96" cy="112.31" r="1.5"/><circle cx="201.96" cy="110.72" r="1.5"/><circle cx="201.96" cy="109.12" r="1.5"/><circle cx="201.96" cy="107.53" r="1.5"/><circle cx="201.96" cy="105.93" r="1.5"/><circle cx="201.96" cy="104.33" r="1.5"/><circle cx="201.96" cy="102.74" r="1.5"/><circle cx="201.96" cy="101.14" r="1.5"/><circle cx="201.96" cy="99.54" r="1.5"/><circle cx="201.96" cy="97.95" r="1.5"/><circle cx="201.96" cy="96.35" r="1.5"/><circle cx="201.96" cy="94.75" r="1.5"/><circle cx="201.96" cy="93.16" r="1.5"/><circle cx="214.24" cy="48.45" r="1.5"/><circle cx="214.24" cy="54.84" r="1.5"/><circle cx="214.24" cy="59.63" r="1.5"/><circle cx="214.24" cy="75.6" r="1.5"/><circle cx="214.24" cy="74" r="1.5"/><circle cx="214.24" cy="72.4" r="1.5"/><circle cx="214.24" cy="70.81" r="1.5"/><circle cx="214.24" cy="69.21" r="1.5"/><circle cx="214.24" cy="80.38" r="1.5"/><circle cx="214.24" cy="113.91" r="1.5"/><circle cx="214.24" cy="112.31" r="1.5"/><circle cx="214.24" cy="110.72" r="1.5"/><circle cx="214.24" cy="109.12" r="1.5"/><circle cx="214.24" cy="107.53" r="1.5"/><circle cx="214.24" cy="105.93" r="1.5"/><circle cx="214.24" cy="104.33" r="1.5"/><circle cx="214.24" cy="102.74" r="1.5"/><circle cx="214.24" cy="101.14" r="1.5"/><circle cx="214.24" cy="99.54" r="1.5"/><circle cx="214.24" cy="97.95" r="1.5"/><circle cx="214.24" cy="96.35" r="1.5"/><circle cx="214.24" cy="94.75" r="1.5"/><circle cx="214.24" cy="93.16" r="1.5"/><circle cx="214.24" cy="91.56" r="1.5"/><circle cx="214.24" cy="89.96" r="1.5"/><circle cx="214.24" cy="88.37" r="1.5"/><circle cx="214.24" cy="86.77" r="1.5"/><circle cx="214.24" cy="85.17" r="1.5"/><circle cx="214.24" cy="83.58" r="1.5"/><circle cx="226.52" cy="75.6" r="1.5"/><circle cx="226.52" cy="74" r="1.5"/><circle cx="226.52" cy="72.4" r="1.5"/><circle cx="226.52" cy="70.81" r="1.5"/><circle cx="226.52" cy="69.21" r="1.5"/><circle cx="226.52" cy="67.61" r="1.5"/><circle cx="226.52" cy="66.02" r="1.5"/><circle cx="226.52" cy="64.42" r="1.5"/><circle cx="226.52" cy="85.17" r="1.5"/><circle cx="226.52" cy="112.31" r="1.5"/><circle cx="226.52" cy="110.72" r="1.5"/><circle cx="226.52" cy="109.12" r="1.5"/><circle cx="226.52" cy="107.53" r="1.5"/><circle cx="226.52" cy="105.93" r="1.5"/><circle cx="226.52" cy="104.33" r="1.5"/><circle cx="226.52" cy="102.74" r="1.5"/><circle cx="226.52" cy="101.14" r="1.5"/><circle cx="226.52" cy="99.54" r="1.5"/><circle cx="226.52" cy="97.95" r="1.5"/><circle cx="226.52" cy="96.35" r="1.5"/><circle cx="226.52" cy="94.75" r="1.5"/><circle cx="226.52" cy="93.16" r="1.5"/><circle cx="226.52" cy="91.56" r="1.5"/><circle cx="226.52" cy="89.96" r="1.5"/><circle cx="226.52" cy="88.37" r="1.5"/><circle cx="238.8" cy="40.47" r="1.5"/><circle cx="238.8" cy="42.07" r="1.5"/><circle cx="238.8" cy="53.24" r="1.5"/><circle cx="238.8" cy="58.03" r="1.5"/><circle cx="238.8" cy="62.82" r="1.5"/><circle cx="238.8" cy="112.31" r="1.5"/><circle cx="238.8" cy="110.72" r="1.5"/><circle cx="238.8" cy="109.12" r="1.5"/><circle cx="238.8" cy="107.53" r="1.5"/><circle cx="238.8" cy="105.93" r="1.5"/><circle cx="238.8" cy="104.33" r="1.5"/><circle cx="238.8" cy="102.74" r="1.5"/><circle cx="238.8" cy="101.14" r="1.5"/><circle cx="238.8" cy="99.54" r="1.5"/><circle cx="238.8" cy="97.95" r="1.5"/><circle cx="238.8" cy="96.35" r="1.5"/><circle cx="238.8" cy="94.75" r="1.5"/><circle cx="238.8" cy="93.16" r="1.5"/><circle cx="238.8" cy="91.56" r="1.5"/><circle cx="238.8" cy="89.96" r="1.5"/><circle cx="238.8" cy="88.37" r="1.5"/><circle cx="238.8" cy="86.77" r="1.5"/><circle cx="251.08" cy="40.47" r="1.5"/><circle cx="251.08" cy="50.05" r="1.5"/><circle cx="251.08" cy="54.84" r="1.5"/><circle cx="251.08" cy="64.42" r="1.5"/><circle cx="251.08" cy="66.02" r="1.5"/><circle cx="251.08" cy="80.38" r="1.5"/><circle cx="251.08" cy="78.79" r="1.5"/><circle cx="251.08" cy="77.19" r="1.5"/><circle cx="251.08" cy="75.6" r="1.5"/><circle cx="251.08" cy="89.96" r="1.5"/><circle cx="251.08" cy="88.37" r="1.5"/><circle cx="251.08" cy="86.77" r="1.5"/><circle cx="251.08" cy="85.17" r="1.5"/><circle cx="251.08" cy="94.75" r="1.5"/><circle cx="251.08" cy="120.3" r="1.5"/><circle cx="251.08" cy="118.7" r="1.5"/><circle cx="251.08" cy="117.1" r="1.5"/><circle cx="251.08" cy="115.51" r="1.5"/><circle cx="251.08" cy="113.91" r="1.5"/><circle cx="251.08" cy="112.31" r="1.5"/><circle cx="251.08" cy="110.72" r="1.5"/><circle cx="251.08" cy="109.12" r="1.5"/><circle cx="251.08" cy="107.53" r="1.5"/><circle cx="251.08" cy="105.93" r="1.5"/><circle cx="251.08" cy="104.33" r="1.5"/><circle cx="251.08" cy="102.74" r="1.5"/><circle cx="251.08" cy="101.14" r="1.5"/><circle cx="251.08" cy="99.54" r="1.5"/><circle cx="251.08" cy="97.95" r="1.5"/><circle cx="251.08" cy="96.35" r="1.5"/><circle cx="263.36" cy="40.47" r="1.5"/><circle cx="263.36" cy="56.44" r="1.5"/><circle cx="263.36" cy="66.02" r="1.5"/><circle cx="263.36" cy="86.77" r="1.5"/><circle cx="263.36" cy="104.33" r="1.5"/><circle cx="263.36" cy="102.74" r="1.5"/><circle cx="263.36" cy="101.14" r="1.5"/><circle cx="263.36" cy="99.54" r="1.5"/><circle cx="263.36" cy="97.95" r="1.5"/><circle cx="263.36" cy="96.35" r="1.5"/><circle cx="263.36" cy="94.75" r="1.5"/><circle cx="263.36" cy="93.16" r="1.5"/><circle cx="263.36" cy="91.56" r="1.5"/><circle cx="263.36" cy="110.72" r="1.5"/><circle cx="263.36" cy="109.12" r="1.5"/><circle cx="263.36" cy="107.53" r="1.5"/><circle cx="263.36" cy="115.51" r="1.5"/><circle cx="275.64" cy="50.05" r="1.5"/><circle cx="275.64" cy="75.6" r="1.5"/><circle cx="275.64" cy="74" r="1.5"/><circle cx="275.64" cy="72.4" r="1.5"/><circle cx="275.64" cy="70.81" r="1.5"/><circle cx="275.64" cy="69.21" r="1.5"/><circle cx="275.64" cy="67.61" r="1.5"/><circle cx="275.64" cy="66.02" r="1.5"/><circle cx="275.64" cy="64.42" r="1.5"/><circle cx="275.64" cy="117.1" r="1.5"/><circle cx="275.64" cy="115.51" r="1.5"/><circle cx="275.64" cy="113.91" r="1.5"/><circle cx="275.64" cy="112.31" r="1.5"/><circle cx="275.64" cy="110.72" r="1.5"/><circle cx="275.64" cy="109.12" r="1.5"/><circle cx="275.64" cy="107.53" r="1.5"/><circle cx="275.64" cy="105.93" r="1.5"/><circle cx="275.64" cy="104.33" r="1.5"/><circle cx="275.64" cy="102.74" r="1.5"/><circle cx="275.64" cy="101.14" r="1.5"/><circle cx="275.64" cy="99.54" r="1.5"/><circle cx="275.64" cy="97.95" r="1.5"/><circle cx="275.64" cy="96.35" r="1.5"/><circle cx="275.64" cy="94.75" r="1.5"/><circle cx="275.64" cy="93.16" r="1.5"/><circle cx="275.64" cy="91.56" r="1.5"/><circle cx="275.64" cy="89.96" r="1.5"/><circle cx="275.64" cy="88.37" r="1.5"/><circle cx="287.92" cy="38.88" r="1.5"/><circle cx="287.92" cy="54.84" r="1.5"/><circle cx="287.92" cy="64.42" r="1.5"/><circle cx="287.92" cy="75.6" r="1.5"/><circle cx="287.92" cy="74" r="1.5"/><circle cx="287.92" cy="72.4" r="1.5"/><circle cx="287.92" cy="70.81" r="1.5"/><circle cx="287.92" cy="91.56" r="1.5"/><circle cx="287.92" cy="102.74" r="1.5"/><circle cx="287.92" cy="101.14" r="1.5"/><circle cx="287.92" cy="99.54" r="1.5"/><circle cx="287.92" cy="141.05" r="1.5"/><circle cx="287.92" cy="139.46" r="1.5"/><circle cx="287.92" cy="137.86" r="1.5"/><circle cx="287.92" cy="136.26" r="1.5"/><circle cx="287.92" cy="134.67" r="1.5"/><circle cx="287.92" cy="133.07" r="1.5"/><circle cx="287.92" cy="131.47" r="1.5"/><circle cx="287.92" cy="129.88" r="1.5"/><circle cx="287.92" cy="128.28" r="1.5"/><circle cx="287.92" cy="126.68" r="1.5"/><circle cx="287.92" cy="125.09" r="1.5"/><circle cx="287.92" cy="123.49" r="1.5"/><circle cx="287.92" cy="121.89" r="1.5"/><circle cx="287.92" cy="120.3" r="1.5"/><circle cx="287.92" cy="118.7" r="1.5"/><circle cx="287.92" cy="117.1" r="1.5"/><circle cx="287.92" cy="115.51" r="1.5"/><circle cx="287.92" cy="113.91" r="1.5"/><circle cx="287.92" cy="112.31" r="1.5"/><circle cx="287.92" cy="110.72" r="1.5"/><circle cx="287.92" cy="109.12" r="1.5"/><circle cx="287.92" cy="107.53" r="1.5"/><circle cx="287.92" cy="105.93" r="1.5"/><circle cx="287.92" cy="249.61" r="1.5"/><circle cx="287.92" cy="248.02" r="1.5"/><circle cx="287.92" cy="246.42" r="1.5"/><circle cx="287.92" cy="244.82" r="1.5"/><circle cx="287.92" cy="243.23" r="1.5"/><circle cx="287.92" cy="241.63" r="1.5"/><circle cx="287.92" cy="240.03" r="1.5"/><circle cx="287.92" cy="238.44" r="1.5"/></g><g stroke="#222" stroke-width="0.9" stroke-dasharray="1.5 1.5"><line x1="54.6" y1="166.6" x2="54.6" y2="102.74" stroke-opacity="1"/><line x1="54.6" y1="209.7" x2="54.6" y2="254.4" stroke-opacity="1"/><line x1="66.88" y1="165" x2="66.88" y2="112.31" stroke-opacity="0.3"/><line x1="66.88" y1="200.12" x2="66.88" y2="251.21" stroke-opacity="0.3"/><line x1="79.16" y1="172.98" x2="79.16" y2="128.28" stroke-opacity="0.3"/><line x1="79.16" y1="203.32" x2="79.16" y2="248.02" stroke-opacity="0.3"/><line x1="91.44" y1="177.77" x2="91.44" y2="137.86" stroke-opacity="1"/><line x1="91.44" y1="204.91" x2="91.44" y2="244.82" stroke-opacity="1"/><line x1="103.72" y1="179.37" x2="103.72" y2="141.05" stroke-opacity="1"/><line x1="103.72" y1="204.91" x2="103.72" y2="243.23" stroke-opacity="1"/><line x1="116" y1="180.96" x2="116" y2="145.84" stroke-opacity="1"/><line x1="116" y1="204.91" x2="116" y2="240.03" stroke-opacity="1"/><line x1="128.28" y1="179.37" x2="128.28" y2="141.05" stroke-opacity="1"/><line x1="128.28" y1="204.91" x2="128.28" y2="243.23" stroke-opacity="1"/><line x1="140.56" y1="177.77" x2="140.56" y2="137.86" stroke-opacity="0.3"/><line x1="140.56" y1="204.91" x2="140.56" y2="246.42" stroke-opacity="0.15"/><line x1="152.84" y1="176.18" x2="152.84" y2="133.07" stroke-opacity="0.5"/><line x1="152.84" y1="204.91" x2="152.84" y2="248.02" stroke-opacity="0.6"/><line x1="165.12" y1="174.58" x2="165.12" y2="129.88" stroke-opacity="0.65"/><line x1="165.12" y1="204.91" x2="165.12" y2="249.61" stroke-opacity="0.8"/><line x1="177.4" y1="172.98" x2="177.4" y2="128.28" stroke-opacity="1"/><line x1="177.4" y1="203.32" x2="177.4" y2="248.02" stroke-opacity="1"/><line x1="189.68" y1="171.39" x2="189.68" y2="123.49" stroke-opacity="1"/><line x1="189.68" y1="203.32" x2="189.68" y2="248.02" stroke-opacity="1"/><line x1="201.96" y1="169.79" x2="201.96" y2="120.3" stroke-opacity="0.6"/><line x1="201.96" y1="203.32" x2="201.96" y2="248.02" stroke-opacity="1"/><line x1="214.24" y1="168.19" x2="214.24" y2="115.51" stroke-opacity="0.12"/><line x1="214.24" y1="203.32" x2="214.24" y2="246.42" stroke-opacity="0.3"/><line x1="226.52" y1="166.6" x2="226.52" y2="113.91" stroke-opacity="1"/><line x1="226.52" y1="201.72" x2="226.52" y2="249.61" stroke-opacity="1"/><line x1="238.8" y1="166.6" x2="238.8" y2="113.91" stroke-opacity="1"/><line x1="238.8" y1="201.72" x2="238.8" y2="249.61" stroke-opacity="1"/><line x1="251.08" y1="169.79" x2="251.08" y2="121.89" stroke-opacity="0.65"/><line x1="251.08" y1="201.72" x2="251.08" y2="249.61" stroke-opacity="1"/><line x1="263.36" y1="168.19" x2="263.36" y2="118.7" stroke-opacity="1"/><line x1="263.36" y1="201.72" x2="263.36" y2="246.42" stroke-opacity="1"/><line x1="275.64" y1="168.19" x2="275.64" y2="118.7" stroke-opacity="0.8"/><line x1="275.64" y1="201.72" x2="275.64" y2="248.02" stroke-opacity="1"/><line x1="287.92" y1="177.77" x2="287.92" y2="142.65" stroke-opacity="0.65"/><line x1="287.92" y1="201.72" x2="287.92" y2="236.84" stroke-opacity="0.65"/></g><g stroke="#222" stroke-width="0.9"><line x1="52.1" y1="102.74" x2="57.1" y2="102.74"/><line x1="52.1" y1="254.4" x2="57.1" y2="254.4"/><line x1="64.38" y1="112.31" x2="69.38" y2="112.31"/><line x1="64.38" y1="251.21" x2="69.38" y2="251.21"/><line x1="76.66" y1="128.28" x2="81.66" y2="128.28"/><line x1="76.66" y1="248.02" x2="81.66" y2="248.02"/><line x1="88.94" y1="137.86" x2="93.94" y2="137.86"/><line x1="88.94" y1="244.82" x2="93.94" y2="244.82"/><line x1="101.22" y1="141.05" x2="106.22" y2="141.05"/><line x1="101.22" y1="243.23" x2="106.22" y2="243.23"/><line x1="113.5" y1="145.84" x2="118.5" y2="145.84"/><line x1="113.5" y1="240.03" x2="118.5" y2="240.03"/><line x1="125.78" y1="141.05" x2="130.78" y2="141.05"/><line x1="125.78" y1="243.23" x2="130.78" y2="243.23"/><line x1="138.06" y1="137.86" x2="143.06" y2="137.86"/><line x1="138.06" y1="246.42" x2="143.06" y2="246.42"/><line x1="150.34" y1="133.07" x2="155.34" y2="133.07"/><line x1="150.34" y1="248.02" x2="155.34" y2="248.02"/><line x1="162.62" y1="129.88" x2="167.62" y2="129.88"/><line x1="162.62" y1="249.61" x2="167.62" y2="249.61"/><line x1="174.9" y1="128.28" x2="179.9" y2="128.28"/><line x1="174.9" y1="248.02" x2="179.9" y2="248.02"/><line x1="187.18" y1="123.49" x2="192.18" y2="123.49"/><line x1="187.18" y1="248.02" x2="192.18" y2="248.02"/><line x1="199.46" y1="120.3" x2="204.46" y2="120.3"/><line x1="199.46" y1="248.02" x2="204.46" y2="248.02"/><line x1="211.74" y1="115.51" x2="216.74" y2="115.51"/><line x1="211.74" y1="246.42" x2="216.74" y2="246.42"/><line x1="224.02" y1="113.91" x2="229.02" y2="113.91"/><line x1="224.02" y1="249.61" x2="229.02" y2="249.61"/><line x1="236.3" y1="113.91" x2="241.3" y2="113.91"/><line x1="236.3" y1="249.61" x2="241.3" y2="249.61"/><line x1="248.58" y1="121.89" x2="253.58" y2="121.89"/><line x1="248.58" y1="249.61" x2="253.58" y2="249.61"/><line x1="260.86" y1="118.7" x2="265.86" y2="118.7"/><line x1="260.86" y1="246.42" x2="265.86" y2="246.42"/><line x1="273.14" y1="118.7" x2="278.14" y2="118.7"/><line x1="273.14" y1="248.02" x2="278.14" y2="248.02"/><line x1="285.42" y1="142.65" x2="290.42" y2="142.65"/><line x1="285.42" y1="236.84" x2="290.42" y2="236.84"/></g><g fill="#f0b3b6" stroke="#333" stroke-width="0.9"><rect x="49.7" y="166.6" width="9.8" height="43.11" stroke-opacity="1"/><rect x="61.98" y="165" width="9.8" height="35.12" stroke-opacity="0.6"/><rect x="74.26" y="172.98" width="9.8" height="30.33" stroke-opacity="0.6"/><rect x="86.54" y="177.77" width="9.8" height="27.14" stroke-opacity="1"/><rect x="98.82" y="179.37" width="9.8" height="25.54" stroke-opacity="1"/><rect x="111.1" y="180.96" width="9.8" height="23.95" stroke-opacity="1"/><rect x="123.38" y="179.37" width="9.8" height="25.54" stroke-opacity="1"/><rect x="135.66" y="177.77" width="9.8" height="27.14" stroke-opacity="0.9"/><rect x="147.94" y="176.18" width="9.8" height="28.74" stroke-opacity="0.6"/><rect x="160.22" y="174.58" width="9.8" height="30.33" stroke-opacity="1"/><rect x="172.5" y="172.98" width="9.8" height="30.33" stroke-opacity="1"/><rect x="184.78" y="171.39" width="9.8" height="31.93" stroke-opacity="1"/><rect x="197.06" y="169.79" width="9.8" height="33.53" stroke-opacity="0.75"/><rect x="209.34" y="168.19" width="9.8" height="35.12" stroke-opacity="0.15"/><rect x="221.62" y="166.6" width="9.8" height="35.12" stroke-opacity="1"/><rect x="233.9" y="166.6" width="9.8" height="35.12" stroke-opacity="1"/><rect x="246.18" y="169.79" width="9.8" height="31.93" stroke-opacity="1"/><rect x="258.46" y="168.19" width="9.8" height="33.53" stroke-opacity="0.9"/><rect x="270.74" y="168.19" width="9.8" height="33.53" stroke-opacity="0.7"/><rect x="283.02" y="177.77" width="9.8" height="23.95" stroke-opacity="1"/></g><g stroke="#1a1a1a" stroke-width="2"><line x1="49.7" y1="192.14" x2="59.5" y2="192.14"/><line x1="61.98" y1="187.35" x2="71.78" y2="187.35"/><line x1="74.26" y1="192.14" x2="84.06" y2="192.14"/><line x1="86.54" y1="195.33" x2="96.34" y2="195.33"/><line x1="98.82" y1="196.93" x2="108.62" y2="196.93"/><line x1="111.1" y1="196.93" x2="120.9" y2="196.93"/><line x1="123.38" y1="196.93" x2="133.18" y2="196.93"/><line x1="135.66" y1="195.33" x2="145.46" y2="195.33"/><line x1="147.94" y1="195.33" x2="157.74" y2="195.33"/><line x1="160.22" y1="193.74" x2="170.02" y2="193.74"/><line x1="172.5" y1="192.14" x2="182.3" y2="192.14"/><line x1="184.78" y1="192.14" x2="194.58" y2="192.14"/><line x1="197.06" y1="190.54" x2="206.86" y2="190.54"/><line x1="209.34" y1="190.54" x2="219.14" y2="190.54"/><line x1="221.62" y1="188.95" x2="231.42" y2="188.95"/><line x1="233.9" y1="188.95" x2="243.7" y2="188.95"/><line x1="246.18" y1="188.95" x2="255.98" y2="188.95"/><line x1="258.46" y1="187.35" x2="268.26" y2="187.35"/><line x1="270.74" y1="188.95" x2="280.54" y2="188.95"/><line x1="283.02" y1="190.54" x2="292.82" y2="190.54"/></g><g fill="#ff0000"><path d="M54.6 180.86L57.1 183.36L54.6 185.86L52.1 183.36Z"/><path d="M66.88 177.19L69.38 179.69L66.88 182.19L64.38 179.69Z"/><path d="M79.16 181.98L81.66 184.48L79.16 186.98L76.66 184.48Z"/><path d="M91.44 184.85L93.94 187.35L91.44 189.85L88.94 187.35Z"/><path d="M103.72 186.45L106.22 188.95L103.72 191.45L101.22 188.95Z"/><path d="M116 186.77L118.5 189.27L116 191.77L113.5 189.27Z"/><path d="M128.28 186.45L130.78 188.95L128.28 191.45L125.78 188.95Z"/><path d="M140.56 185.65L143.06 188.15L140.56 190.65L138.06 188.15Z"/><path d="M152.84 184.85L155.34 187.35L152.84 189.85L150.34 187.35Z"/><path d="M165.12 183.73L167.62 186.23L165.12 188.73L162.62 186.23Z"/><path d="M177.4 183.25L179.9 185.75L177.4 188.25L174.9 185.75Z"/><path d="M189.68 182.46L192.18 184.96L189.68 187.46L187.18 184.96Z"/><path d="M201.96 181.18L204.46 183.68L201.96 186.18L199.46 183.68Z"/><path d="M214.24 180.7L216.74 183.2L214.24 185.7L211.74 183.2Z"/><path d="M226.52 180.22L229.02 182.72L226.52 185.22L224.02 182.72Z"/><path d="M238.8 180.22L241.3 182.72L238.8 185.22L236.3 182.72Z"/><path d="M251.08 180.22L253.58 182.72L251.08 185.22L248.58 182.72Z"/><path d="M263.36 180.06L265.86 182.56L263.36 185.06L260.86 182.56Z"/><path d="M275.64 180.22L278.14 182.72L275.64 185.22L273.14 182.72Z"/><path d="M287.92 183.57L290.42 186.07L287.92 188.57L285.42 186.07Z"/></g><g stroke="#777" stroke-width="0.9"><line x1="54.6" y1="263.3" x2="54.6" y2="267.3" stroke-opacity="1"/><line x1="66.88" y1="263.3" x2="66.88" y2="267.3" stroke-opacity="0.3"/><line x1="79.16" y1="263.3" x2="79.16" y2="267.3" stroke-opacity="0.3"/><line x1="91.44" y1="263.3" x2="91.44" y2="267.3" stroke-opacity="1"/><line x1="103.72" y1="263.3" x2="103.72" y2="267.3" stroke-opacity="1"/><line x1="116" y1="263.3" x2="116" y2="267.3" stroke-opacity="1"/><line x1="128.28" y1="263.3" x2="128.28" y2="267.3" stroke-opacity="1"/><line x1="140.56" y1="263.3" x2="140.56" y2="267.3" stroke-opacity="0.3"/><line x1="152.84" y1="263.3" x2="152.84" y2="267.3" stroke-opacity="0.5"/><line x1="165.12" y1="263.3" x2="165.12" y2="267.3" stroke-opacity="0.65"/><line x1="177.4" y1="263.3" x2="177.4" y2="267.3" stroke-opacity="1"/><line x1="189.68" y1="263.3" x2="189.68" y2="267.3" stroke-opacity="1"/><line x1="201.96" y1="263.3" x2="201.96" y2="267.3" stroke-opacity="0.6"/><line x1="214.24" y1="263.3" x2="214.24" y2="267.3" stroke-opacity="0.25"/><line x1="226.52" y1="263.3" x2="226.52" y2="267.3" stroke-opacity="1"/><line x1="238.8" y1="263.3" x2="238.8" y2="267.3" stroke-opacity="1"/><line x1="251.08" y1="263.3" x2="251.08" y2="267.3" stroke-opacity="0.65"/><line x1="263.36" y1="263.3" x2="263.36" y2="267.3" stroke-opacity="1"/><line x1="275.64" y1="263.3" x2="275.64" y2="267.3" stroke-opacity="0.8"/><line x1="287.92" y1="263.3" x2="287.92" y2="267.3" stroke-opacity="0.65"/></g><rect x="39" y="22.1" width="265" height="241.2" fill="none" stroke="#a6a6a6" stroke-width="1"/>
<g fill="none" stroke="#333" stroke-width="0.65"><circle cx="353.1" cy="97.22" r="1.55"/><circle cx="353.1" cy="92.45" r="1.55"/><circle cx="353.1" cy="87.68" r="1.55"/><circle cx="353.1" cy="82.91" r="1.55"/><circle cx="353.1" cy="78.14" r="1.55"/><circle cx="353.1" cy="73.37" r="1.55"/><circle cx="353.1" cy="68.6" r="1.55"/><circle cx="353.1" cy="63.83" r="1.55"/><circle cx="353.1" cy="59.06" r="1.55"/><circle cx="353.1" cy="54.29" r="1.55"/><circle cx="353.1" cy="49.52" r="1.55"/><circle cx="353.1" cy="44.75" r="1.55"/><circle cx="353.1" cy="39.98" r="1.55"/><circle cx="353.1" cy="35.21" r="1.55"/><circle cx="353.1" cy="30.44" r="1.55"/><circle cx="365.38" cy="140.15" r="1.55"/><circle cx="365.38" cy="135.38" r="1.55"/><circle cx="365.38" cy="130.61" r="1.55"/><circle cx="365.38" cy="125.84" r="1.55"/><circle cx="365.38" cy="121.07" r="1.55"/><circle cx="365.38" cy="116.3" r="1.55"/><circle cx="365.38" cy="111.53" r="1.55"/><circle cx="365.38" cy="106.76" r="1.55"/><circle cx="365.38" cy="101.99" r="1.55"/><circle cx="365.38" cy="97.22" r="1.55"/><circle cx="365.38" cy="92.45" r="1.55"/><circle cx="365.38" cy="87.68" r="1.55"/><circle cx="365.38" cy="82.91" r="1.55"/><circle cx="365.38" cy="78.14" r="1.55"/><circle cx="365.38" cy="73.37" r="1.55"/><circle cx="365.38" cy="68.6" r="1.55"/><circle cx="365.38" cy="63.83" r="1.55"/><circle cx="365.38" cy="59.06" r="1.55"/><circle cx="365.38" cy="54.29" r="1.55"/><circle cx="365.38" cy="49.52" r="1.55"/><circle cx="365.38" cy="44.75" r="1.55"/><circle cx="365.38" cy="39.98" r="1.55"/><circle cx="377.66" cy="149.69" r="1.55"/><circle cx="377.66" cy="144.92" r="1.55"/><circle cx="377.66" cy="140.15" r="1.55"/><circle cx="377.66" cy="135.38" r="1.55"/><circle cx="377.66" cy="130.61" r="1.55"/><circle cx="377.66" cy="125.84" r="1.55"/><circle cx="377.66" cy="121.07" r="1.55"/><circle cx="377.66" cy="116.3" r="1.55"/><circle cx="377.66" cy="111.53" r="1.55"/><circle cx="377.66" cy="106.76" r="1.55"/><circle cx="377.66" cy="101.99" r="1.55"/><circle cx="377.66" cy="97.22" r="1.55"/><circle cx="377.66" cy="92.45" r="1.55"/><circle cx="377.66" cy="87.68" r="1.55"/><circle cx="377.66" cy="82.91" r="1.55"/><circle cx="377.66" cy="78.14" r="1.55"/><circle cx="377.66" cy="73.37" r="1.55"/><circle cx="377.66" cy="68.6" r="1.55"/><circle cx="377.66" cy="63.83" r="1.55"/><circle cx="377.66" cy="59.06" r="1.55"/><circle cx="377.66" cy="54.29" r="1.55"/><circle cx="377.66" cy="49.52" r="1.55"/><circle cx="377.66" cy="44.75" r="1.55"/><circle cx="377.66" cy="39.98" r="1.55"/><circle cx="389.94" cy="183.08" r="1.55"/><circle cx="389.94" cy="178.31" r="1.55"/><circle cx="389.94" cy="173.54" r="1.55"/><circle cx="389.94" cy="168.77" r="1.55"/><circle cx="389.94" cy="164" r="1.55"/><circle cx="389.94" cy="159.23" r="1.55"/><circle cx="389.94" cy="154.46" r="1.55"/><circle cx="389.94" cy="149.69" r="1.55"/><circle cx="389.94" cy="144.92" r="1.55"/><circle cx="389.94" cy="140.15" r="1.55"/><circle cx="389.94" cy="135.38" r="1.55"/><circle cx="389.94" cy="130.61" r="1.55"/><circle cx="389.94" cy="125.84" r="1.55"/><circle cx="389.94" cy="121.07" r="1.55"/><circle cx="389.94" cy="116.3" r="1.55"/><circle cx="389.94" cy="111.53" r="1.55"/><circle cx="389.94" cy="106.76" r="1.55"/><circle cx="389.94" cy="101.99" r="1.55"/><circle cx="389.94" cy="97.22" r="1.55"/><circle cx="389.94" cy="92.45" r="1.55"/><circle cx="389.94" cy="87.68" r="1.55"/><circle cx="389.94" cy="82.91" r="1.55"/><circle cx="389.94" cy="78.14" r="1.55"/><circle cx="389.94" cy="73.37" r="1.55"/><circle cx="389.94" cy="68.6" r="1.55"/><circle cx="389.94" cy="63.83" r="1.55"/><circle cx="389.94" cy="59.06" r="1.55"/><circle cx="389.94" cy="54.29" r="1.55"/><circle cx="389.94" cy="49.52" r="1.55"/><circle cx="389.94" cy="44.75" r="1.55"/><circle cx="389.94" cy="39.98" r="1.55"/><circle cx="389.94" cy="254.63" r="1.55"/><circle cx="389.94" cy="249.86" r="1.55"/><circle cx="389.94" cy="245.09" r="1.55"/><circle cx="402.22" cy="183.08" r="1.55"/><circle cx="402.22" cy="178.31" r="1.55"/><circle cx="402.22" cy="173.54" r="1.55"/><circle cx="402.22" cy="168.77" r="1.55"/><circle cx="402.22" cy="164" r="1.55"/><circle cx="402.22" cy="159.23" r="1.55"/><circle cx="402.22" cy="154.46" r="1.55"/><circle cx="402.22" cy="149.69" r="1.55"/><circle cx="402.22" cy="144.92" r="1.55"/><circle cx="402.22" cy="140.15" r="1.55"/><circle cx="402.22" cy="135.38" r="1.55"/><circle cx="402.22" cy="130.61" r="1.55"/><circle cx="402.22" cy="125.84" r="1.55"/><circle cx="402.22" cy="121.07" r="1.55"/><circle cx="402.22" cy="116.3" r="1.55"/><circle cx="402.22" cy="111.53" r="1.55"/><circle cx="402.22" cy="106.76" r="1.55"/><circle cx="402.22" cy="101.99" r="1.55"/><circle cx="402.22" cy="97.22" r="1.55"/><circle cx="402.22" cy="92.45" r="1.55"/><circle cx="402.22" cy="87.68" r="1.55"/><circle cx="402.22" cy="82.91" r="1.55"/><circle cx="402.22" cy="78.14" r="1.55"/><circle cx="402.22" cy="73.37" r="1.55"/><circle cx="402.22" cy="68.6" r="1.55"/><circle cx="402.22" cy="59.06" r="1.55"/><circle cx="402.22" cy="54.29" r="1.55"/><circle cx="402.22" cy="49.52" r="1.55"/><circle cx="402.22" cy="44.75" r="1.55"/><circle cx="402.22" cy="254.63" r="1.55"/><circle cx="402.22" cy="249.86" r="1.55"/><circle cx="402.22" cy="245.09" r="1.55"/><circle cx="414.5" cy="183.08" r="1.55"/><circle cx="414.5" cy="178.31" r="1.55"/><circle cx="414.5" cy="173.54" r="1.55"/><circle cx="414.5" cy="168.77" r="1.55"/><circle cx="414.5" cy="164" r="1.55"/><circle cx="414.5" cy="159.23" r="1.55"/><circle cx="414.5" cy="154.46" r="1.55"/><circle cx="414.5" cy="149.69" r="1.55"/><circle cx="414.5" cy="144.92" r="1.55"/><circle cx="414.5" cy="140.15" r="1.55"/><circle cx="414.5" cy="135.38" r="1.55"/><circle cx="414.5" cy="130.61" r="1.55"/><circle cx="414.5" cy="125.84" r="1.55"/><circle cx="414.5" cy="121.07" r="1.55"/><circle cx="414.5" cy="116.3" r="1.55"/><circle cx="414.5" cy="111.53" r="1.55"/><circle cx="414.5" cy="106.76" r="1.55"/><circle cx="414.5" cy="101.99" r="1.55"/><circle cx="414.5" cy="97.22" r="1.55"/><circle cx="414.5" cy="92.45" r="1.55"/><circle cx="414.5" cy="87.68" r="1.55"/><circle cx="414.5" cy="82.91" r="1.55"/><circle cx="414.5" cy="78.14" r="1.55"/><circle cx="414.5" cy="73.37" r="1.55"/><circle cx="414.5" cy="68.6" r="1.55"/><circle cx="414.5" cy="63.83" r="1.55"/><circle cx="414.5" cy="59.06" r="1.55"/><circle cx="414.5" cy="54.29" r="1.55"/><circle cx="414.5" cy="49.52" r="1.55"/><circle cx="414.5" cy="44.75" r="1.55"/><circle cx="414.5" cy="254.63" r="1.55"/><circle cx="414.5" cy="249.86" r="1.55"/><circle cx="414.5" cy="245.09" r="1.55"/><circle cx="426.78" cy="183.08" r="1.55"/><circle cx="426.78" cy="178.31" r="1.55"/><circle cx="426.78" cy="173.54" r="1.55"/><circle cx="426.78" cy="168.77" r="1.55"/><circle cx="426.78" cy="164" r="1.55"/><circle cx="426.78" cy="159.23" r="1.55"/><circle cx="426.78" cy="154.46" r="1.55"/><circle cx="426.78" cy="149.69" r="1.55"/><circle cx="426.78" cy="144.92" r="1.55"/><circle cx="426.78" cy="140.15" r="1.55"/><circle cx="426.78" cy="135.38" r="1.55"/><circle cx="426.78" cy="130.61" r="1.55"/><circle cx="426.78" cy="125.84" r="1.55"/><circle cx="426.78" cy="121.07" r="1.55"/><circle cx="426.78" cy="116.3" r="1.55"/><circle cx="426.78" cy="111.53" r="1.55"/><circle cx="426.78" cy="106.76" r="1.55"/><circle cx="426.78" cy="101.99" r="1.55"/><circle cx="426.78" cy="97.22" r="1.55"/><circle cx="426.78" cy="92.45" r="1.55"/><circle cx="426.78" cy="87.68" r="1.55"/><circle cx="426.78" cy="82.91" r="1.55"/><circle cx="426.78" cy="78.14" r="1.55"/><circle cx="426.78" cy="73.37" r="1.55"/><circle cx="426.78" cy="63.83" r="1.55"/><circle cx="426.78" cy="59.06" r="1.55"/><circle cx="426.78" cy="49.52" r="1.55"/><circle cx="426.78" cy="254.63" r="1.55"/><circle cx="426.78" cy="249.86" r="1.55"/><circle cx="426.78" cy="245.09" r="1.55"/><circle cx="439.06" cy="183.08" r="1.55"/><circle cx="439.06" cy="178.31" r="1.55"/><circle cx="439.06" cy="173.54" r="1.55"/><circle cx="439.06" cy="168.77" r="1.55"/><circle cx="439.06" cy="164" r="1.55"/><circle cx="439.06" cy="159.23" r="1.55"/><circle cx="439.06" cy="154.46" r="1.55"/><circle cx="439.06" cy="149.69" r="1.55"/><circle cx="439.06" cy="144.92" r="1.55"/><circle cx="439.06" cy="140.15" r="1.55"/><circle cx="439.06" cy="135.38" r="1.55"/><circle cx="439.06" cy="130.61" r="1.55"/><circle cx="439.06" cy="125.84" r="1.55"/><circle cx="439.06" cy="121.07" r="1.55"/><circle cx="439.06" cy="116.3" r="1.55"/><circle cx="439.06" cy="111.53" r="1.55"/><circle cx="439.06" cy="106.76" r="1.55"/><circle cx="439.06" cy="101.99" r="1.55"/><circle cx="439.06" cy="97.22" r="1.55"/><circle cx="439.06" cy="92.45" r="1.55"/><circle cx="439.06" cy="87.68" r="1.55"/><circle cx="439.06" cy="82.91" r="1.55"/><circle cx="439.06" cy="78.14" r="1.55"/><circle cx="439.06" cy="73.37" r="1.55"/><circle cx="439.06" cy="59.06" r="1.55"/><circle cx="439.06" cy="44.75" r="1.55"/><circle cx="439.06" cy="254.63" r="1.55"/><circle cx="439.06" cy="249.86" r="1.55"/><circle cx="439.06" cy="245.09" r="1.55"/><circle cx="451.34" cy="159.23" r="1.55"/><circle cx="451.34" cy="154.46" r="1.55"/><circle cx="451.34" cy="149.69" r="1.55"/><circle cx="451.34" cy="144.92" r="1.55"/><circle cx="451.34" cy="140.15" r="1.55"/><circle cx="451.34" cy="135.38" r="1.55"/><circle cx="451.34" cy="130.61" r="1.55"/><circle cx="451.34" cy="125.84" r="1.55"/><circle cx="451.34" cy="121.07" r="1.55"/><circle cx="451.34" cy="116.3" r="1.55"/><circle cx="451.34" cy="111.53" r="1.55"/><circle cx="451.34" cy="106.76" r="1.55"/><circle cx="451.34" cy="101.99" r="1.55"/><circle cx="451.34" cy="97.22" r="1.55"/><circle cx="451.34" cy="92.45" r="1.55"/><circle cx="451.34" cy="87.68" r="1.55"/><circle cx="451.34" cy="82.91" r="1.55"/><circle cx="451.34" cy="78.14" r="1.55"/><circle cx="451.34" cy="73.37" r="1.55"/><circle cx="451.34" cy="59.06" r="1.55"/><circle cx="451.34" cy="49.52" r="1.55"/><circle cx="463.62" cy="159.23" r="1.55"/><circle cx="463.62" cy="154.46" r="1.55"/><circle cx="463.62" cy="149.69" r="1.55"/><circle cx="463.62" cy="144.92" r="1.55"/><circle cx="463.62" cy="140.15" r="1.55"/><circle cx="463.62" cy="135.38" r="1.55"/><circle cx="463.62" cy="130.61" r="1.55"/><circle cx="463.62" cy="125.84" r="1.55"/><circle cx="463.62" cy="121.07" r="1.55"/><circle cx="463.62" cy="116.3" r="1.55"/><circle cx="463.62" cy="111.53" r="1.55"/><circle cx="463.62" cy="106.76" r="1.55"/><circle cx="463.62" cy="101.99" r="1.55"/><circle cx="463.62" cy="97.22" r="1.55"/><circle cx="463.62" cy="92.45" r="1.55"/><circle cx="463.62" cy="87.68" r="1.55"/><circle cx="463.62" cy="82.91" r="1.55"/><circle cx="463.62" cy="78.14" r="1.55"/><circle cx="463.62" cy="73.37" r="1.55"/><circle cx="463.62" cy="68.6" r="1.55"/><circle cx="463.62" cy="63.83" r="1.55"/><circle cx="463.62" cy="59.06" r="1.55"/><circle cx="463.62" cy="39.98" r="1.55"/><circle cx="463.62" cy="30.44" r="1.55"/><circle cx="475.9" cy="144.92" r="1.55"/><circle cx="475.9" cy="140.15" r="1.55"/><circle cx="475.9" cy="135.38" r="1.55"/><circle cx="475.9" cy="130.61" r="1.55"/><circle cx="475.9" cy="125.84" r="1.55"/><circle cx="475.9" cy="121.07" r="1.55"/><circle cx="475.9" cy="116.3" r="1.55"/><circle cx="475.9" cy="111.53" r="1.55"/><circle cx="475.9" cy="106.76" r="1.55"/><circle cx="475.9" cy="101.99" r="1.55"/><circle cx="475.9" cy="97.22" r="1.55"/><circle cx="475.9" cy="92.45" r="1.55"/><circle cx="475.9" cy="87.68" r="1.55"/><circle cx="475.9" cy="78.14" r="1.55"/><circle cx="475.9" cy="73.37" r="1.55"/><circle cx="488.18" cy="144.92" r="1.55"/><circle cx="488.18" cy="140.15" r="1.55"/><circle cx="488.18" cy="135.38" r="1.55"/><circle cx="488.18" cy="130.61" r="1.55"/><circle cx="488.18" cy="125.84" r="1.55"/><circle cx="488.18" cy="121.07" r="1.55"/><circle cx="488.18" cy="116.3" r="1.55"/><circle cx="488.18" cy="111.53" r="1.55"/><circle cx="488.18" cy="106.76" r="1.55"/><circle cx="488.18" cy="101.99" r="1.55"/><circle cx="488.18" cy="97.22" r="1.55"/><circle cx="488.18" cy="92.45" r="1.55"/><circle cx="488.18" cy="87.68" r="1.55"/><circle cx="488.18" cy="82.91" r="1.55"/><circle cx="488.18" cy="78.14" r="1.55"/><circle cx="488.18" cy="73.37" r="1.55"/><circle cx="488.18" cy="49.52" r="1.55"/><circle cx="500.46" cy="135.38" r="1.55"/><circle cx="500.46" cy="130.61" r="1.55"/><circle cx="500.46" cy="125.84" r="1.55"/><circle cx="500.46" cy="121.07" r="1.55"/><circle cx="500.46" cy="116.3" r="1.55"/><circle cx="500.46" cy="111.53" r="1.55"/><circle cx="500.46" cy="106.76" r="1.55"/><circle cx="500.46" cy="101.99" r="1.55"/><circle cx="500.46" cy="97.22" r="1.55"/><circle cx="500.46" cy="92.45" r="1.55"/><circle cx="500.46" cy="87.68" r="1.55"/><circle cx="500.46" cy="82.91" r="1.55"/><circle cx="500.46" cy="78.14" r="1.55"/><circle cx="500.46" cy="73.37" r="1.55"/><circle cx="500.46" cy="63.83" r="1.55"/><circle cx="512.74" cy="135.38" r="1.55"/><circle cx="512.74" cy="130.61" r="1.55"/><circle cx="512.74" cy="125.84" r="1.55"/><circle cx="512.74" cy="121.07" r="1.55"/><circle cx="512.74" cy="116.3" r="1.55"/><circle cx="512.74" cy="111.53" r="1.55"/><circle cx="512.74" cy="106.76" r="1.55"/><circle cx="512.74" cy="101.99" r="1.55"/><circle cx="512.74" cy="97.22" r="1.55"/><circle cx="512.74" cy="92.45" r="1.55"/><circle cx="512.74" cy="59.06" r="1.55"/><circle cx="525.02" cy="135.38" r="1.55"/><circle cx="525.02" cy="130.61" r="1.55"/><circle cx="525.02" cy="125.84" r="1.55"/><circle cx="525.02" cy="121.07" r="1.55"/><circle cx="525.02" cy="116.3" r="1.55"/><circle cx="525.02" cy="111.53" r="1.55"/><circle cx="525.02" cy="106.76" r="1.55"/><circle cx="525.02" cy="101.99" r="1.55"/><circle cx="525.02" cy="97.22" r="1.55"/><circle cx="525.02" cy="92.45" r="1.55"/><circle cx="537.3" cy="135.38" r="1.55"/><circle cx="537.3" cy="130.61" r="1.55"/><circle cx="537.3" cy="125.84" r="1.55"/><circle cx="537.3" cy="121.07" r="1.55"/><circle cx="537.3" cy="116.3" r="1.55"/><circle cx="537.3" cy="111.53" r="1.55"/><circle cx="537.3" cy="106.76" r="1.55"/><circle cx="537.3" cy="101.99" r="1.55"/><circle cx="537.3" cy="97.22" r="1.55"/><circle cx="537.3" cy="92.45" r="1.55"/><circle cx="549.58" cy="135.38" r="1.55"/><circle cx="549.58" cy="130.61" r="1.55"/><circle cx="549.58" cy="125.84" r="1.55"/><circle cx="549.58" cy="121.07" r="1.55"/><circle cx="549.58" cy="116.3" r="1.55"/><circle cx="549.58" cy="111.53" r="1.55"/><circle cx="549.58" cy="106.76" r="1.55"/><circle cx="549.58" cy="101.99" r="1.55"/><circle cx="549.58" cy="97.22" r="1.55"/><circle cx="549.58" cy="92.45" r="1.55"/><circle cx="549.58" cy="82.91" r="1.55"/><circle cx="549.58" cy="73.37" r="1.55"/><circle cx="561.86" cy="135.38" r="1.55"/><circle cx="561.86" cy="130.61" r="1.55"/><circle cx="561.86" cy="125.84" r="1.55"/><circle cx="561.86" cy="121.07" r="1.55"/><circle cx="561.86" cy="116.3" r="1.55"/><circle cx="561.86" cy="111.53" r="1.55"/><circle cx="561.86" cy="106.76" r="1.55"/><circle cx="561.86" cy="101.99" r="1.55"/><circle cx="561.86" cy="78.14" r="1.55"/><circle cx="574.14" cy="135.38" r="1.55"/><circle cx="574.14" cy="130.61" r="1.55"/><circle cx="574.14" cy="125.84" r="1.55"/><circle cx="574.14" cy="121.07" r="1.55"/><circle cx="574.14" cy="116.3" r="1.55"/><circle cx="574.14" cy="111.53" r="1.55"/><circle cx="574.14" cy="106.76" r="1.55"/><circle cx="574.14" cy="101.99" r="1.55"/><circle cx="574.14" cy="97.22" r="1.55"/><circle cx="574.14" cy="73.37" r="1.55"/><circle cx="586.42" cy="187.85" r="1.55"/><circle cx="586.42" cy="183.08" r="1.55"/><circle cx="586.42" cy="178.31" r="1.55"/><circle cx="586.42" cy="173.54" r="1.55"/><circle cx="586.42" cy="168.77" r="1.55"/><circle cx="586.42" cy="164" r="1.55"/><circle cx="586.42" cy="159.23" r="1.55"/><circle cx="586.42" cy="154.46" r="1.55"/><circle cx="586.42" cy="149.69" r="1.55"/><circle cx="586.42" cy="144.92" r="1.55"/><circle cx="586.42" cy="140.15" r="1.55"/><circle cx="586.42" cy="135.38" r="1.55"/><circle cx="586.42" cy="130.61" r="1.55"/><circle cx="586.42" cy="125.84" r="1.55"/><circle cx="586.42" cy="121.07" r="1.55"/><circle cx="586.42" cy="116.3" r="1.55"/><circle cx="586.42" cy="111.53" r="1.55"/><circle cx="586.42" cy="106.76" r="1.55"/><circle cx="586.42" cy="101.99" r="1.55"/><circle cx="586.42" cy="97.22" r="1.55"/><circle cx="586.42" cy="92.45" r="1.55"/><circle cx="586.42" cy="73.37" r="1.55"/><circle cx="586.42" cy="49.52" r="1.55"/><circle cx="586.42" cy="254.63" r="1.55"/><circle cx="586.42" cy="249.86" r="1.55"/></g><g stroke="#222" stroke-width="0.9" stroke-dasharray="1.5 1.5"><line x1="353.1" y1="187.85" x2="353.1" y2="101.99" stroke-opacity="1"/><line x1="353.1" y1="245.09" x2="353.1" y2="254.63" stroke-opacity="1"/><line x1="365.38" y1="192.62" x2="365.38" y2="144.92" stroke-opacity="1"/><line x1="365.38" y1="226.01" x2="365.38" y2="254.63" stroke-opacity="1"/><line x1="377.66" y1="197.39" x2="377.66" y2="154.46" stroke-opacity="1"/><line x1="377.66" y1="226.01" x2="377.66" y2="254.63" stroke-opacity="1"/><line x1="389.94" y1="206.93" x2="389.94" y2="187.85" stroke-opacity="1"/><line x1="389.94" y1="221.24" x2="389.94" y2="240.32" stroke-opacity="1"/><line x1="402.22" y1="206.93" x2="402.22" y2="187.85" stroke-opacity="0.3"/><line x1="402.22" y1="221.24" x2="402.22" y2="240.32" stroke-opacity="0.3"/><line x1="414.5" y1="206.93" x2="414.5" y2="187.85" stroke-opacity="1"/><line x1="414.5" y1="221.24" x2="414.5" y2="240.32" stroke-opacity="1"/><line x1="426.78" y1="206.93" x2="426.78" y2="187.85" stroke-opacity="1"/><line x1="426.78" y1="221.24" x2="426.78" y2="240.32" stroke-opacity="1"/><line x1="439.06" y1="206.93" x2="439.06" y2="187.85" stroke-opacity="1"/><line x1="439.06" y1="221.24" x2="439.06" y2="240.32" stroke-opacity="1"/><line x1="451.34" y1="197.39" x2="451.34" y2="164" stroke-opacity="1"/><line x1="451.34" y1="221.24" x2="451.34" y2="254.63" stroke-opacity="1"/><line x1="463.62" y1="197.39" x2="463.62" y2="164" stroke-opacity="1"/><line x1="463.62" y1="221.24" x2="463.62" y2="254.63" stroke-opacity="1"/><line x1="475.9" y1="192.62" x2="475.9" y2="149.69" stroke-opacity="0.35"/><line x1="475.9" y1="221.24" x2="475.9" y2="254.63" stroke-opacity="0.35"/><line x1="488.18" y1="192.62" x2="488.18" y2="149.69" stroke-opacity="0.65"/><line x1="488.18" y1="221.24" x2="488.18" y2="254.63" stroke-opacity="0.65"/><line x1="500.46" y1="187.85" x2="500.46" y2="140.15" stroke-opacity="1"/><line x1="500.46" y1="221.24" x2="500.46" y2="254.63" stroke-opacity="1"/><line x1="512.74" y1="187.85" x2="512.74" y2="140.15" stroke-opacity="1"/><line x1="512.74" y1="221.24" x2="512.74" y2="254.63" stroke-opacity="0.8"/><line x1="525.02" y1="187.85" x2="525.02" y2="140.15" stroke-opacity="1"/><line x1="525.02" y1="221.24" x2="525.02" y2="254.63" stroke-opacity="0.8"/><line x1="537.3" y1="187.85" x2="537.3" y2="140.15" stroke-opacity="0.12"/><line x1="537.3" y1="221.24" x2="537.3" y2="254.63" stroke-opacity="0.12"/><line x1="549.58" y1="187.85" x2="549.58" y2="140.15" stroke-opacity="0.35"/><line x1="549.58" y1="221.24" x2="549.58" y2="254.63" stroke-opacity="0.35"/><line x1="561.86" y1="187.85" x2="561.86" y2="140.15" stroke-opacity="1"/><line x1="561.86" y1="221.24" x2="561.86" y2="254.63" stroke-opacity="1"/><line x1="574.14" y1="187.85" x2="574.14" y2="140.15" stroke-opacity="1"/><line x1="574.14" y1="221.24" x2="574.14" y2="254.63" stroke-opacity="0.8"/><line x1="586.42" y1="211.7" x2="586.42" y2="192.62" stroke-opacity="1"/><line x1="586.42" y1="226.01" x2="586.42" y2="245.09" stroke-opacity="1"/></g><g stroke="#222" stroke-width="0.9"><line x1="350.6" y1="101.99" x2="355.6" y2="101.99"/><line x1="350.6" y1="254.63" x2="355.6" y2="254.63"/><line x1="362.88" y1="144.92" x2="367.88" y2="144.92"/><line x1="362.88" y1="254.63" x2="367.88" y2="254.63"/><line x1="375.16" y1="154.46" x2="380.16" y2="154.46"/><line x1="375.16" y1="254.63" x2="380.16" y2="254.63"/><line x1="387.44" y1="187.85" x2="392.44" y2="187.85"/><line x1="387.44" y1="240.32" x2="392.44" y2="240.32"/><line x1="399.72" y1="187.85" x2="404.72" y2="187.85"/><line x1="399.72" y1="240.32" x2="404.72" y2="240.32"/><line x1="412" y1="187.85" x2="417" y2="187.85"/><line x1="412" y1="240.32" x2="417" y2="240.32"/><line x1="424.28" y1="187.85" x2="429.28" y2="187.85"/><line x1="424.28" y1="240.32" x2="429.28" y2="240.32"/><line x1="436.56" y1="187.85" x2="441.56" y2="187.85"/><line x1="436.56" y1="240.32" x2="441.56" y2="240.32"/><line x1="448.84" y1="164" x2="453.84" y2="164"/><line x1="448.84" y1="254.63" x2="453.84" y2="254.63"/><line x1="461.12" y1="164" x2="466.12" y2="164"/><line x1="461.12" y1="254.63" x2="466.12" y2="254.63"/><line x1="473.4" y1="149.69" x2="478.4" y2="149.69"/><line x1="473.4" y1="254.63" x2="478.4" y2="254.63"/><line x1="485.68" y1="149.69" x2="490.68" y2="149.69"/><line x1="485.68" y1="254.63" x2="490.68" y2="254.63"/><line x1="497.96" y1="140.15" x2="502.96" y2="140.15"/><line x1="497.96" y1="254.63" x2="502.96" y2="254.63"/><line x1="510.24" y1="140.15" x2="515.24" y2="140.15"/><line x1="510.24" y1="254.63" x2="515.24" y2="254.63"/><line x1="522.52" y1="140.15" x2="527.52" y2="140.15"/><line x1="522.52" y1="254.63" x2="527.52" y2="254.63"/><line x1="534.8" y1="140.15" x2="539.8" y2="140.15"/><line x1="534.8" y1="254.63" x2="539.8" y2="254.63"/><line x1="547.08" y1="140.15" x2="552.08" y2="140.15"/><line x1="547.08" y1="254.63" x2="552.08" y2="254.63"/><line x1="559.36" y1="140.15" x2="564.36" y2="140.15"/><line x1="559.36" y1="254.63" x2="564.36" y2="254.63"/><line x1="571.64" y1="140.15" x2="576.64" y2="140.15"/><line x1="571.64" y1="254.63" x2="576.64" y2="254.63"/><line x1="583.92" y1="192.62" x2="588.92" y2="192.62"/><line x1="583.92" y1="245.09" x2="588.92" y2="245.09"/></g><g fill="#6ac9f8" stroke="#333" stroke-width="0.9"><rect x="348.2" y="187.85" width="9.8" height="57.24" stroke-opacity="1"/><rect x="360.48" y="192.62" width="9.8" height="33.39" stroke-opacity="1"/><rect x="372.76" y="197.39" width="9.8" height="28.62" stroke-opacity="1"/><rect x="385.04" y="206.93" width="9.8" height="14.31" stroke-opacity="1"/><rect x="397.32" y="206.93" width="9.8" height="14.31" stroke-opacity="1"/><rect x="409.6" y="206.93" width="9.8" height="14.31" stroke-opacity="1"/><rect x="421.88" y="206.93" width="9.8" height="14.31" stroke-opacity="1"/><rect x="434.16" y="206.93" width="9.8" height="14.31" stroke-opacity="1"/><rect x="446.44" y="197.39" width="9.8" height="23.85" stroke-opacity="1"/><rect x="458.72" y="197.39" width="9.8" height="23.85" stroke-opacity="1"/><rect x="471" y="192.62" width="9.8" height="28.62" stroke-opacity="0.6"/><rect x="483.28" y="192.62" width="9.8" height="28.62" stroke-opacity="1"/><rect x="495.56" y="187.85" width="9.8" height="33.39" stroke-opacity="1"/><rect x="507.84" y="187.85" width="9.8" height="33.39" stroke-opacity="1"/><rect x="520.12" y="187.85" width="9.8" height="33.39" stroke-opacity="1"/><rect x="532.4" y="187.85" width="9.8" height="33.39" stroke-opacity="0.2"/><rect x="544.68" y="187.85" width="9.8" height="33.39" stroke-opacity="0.6"/><rect x="556.96" y="187.85" width="9.8" height="33.39" stroke-opacity="1"/><rect x="569.24" y="187.85" width="9.8" height="33.39" stroke-opacity="1"/><rect x="581.52" y="211.7" width="9.8" height="14.31" stroke-opacity="1"/></g><g stroke="#1a1a1a" stroke-width="2"><line x1="348.2" y1="226.01" x2="358" y2="226.01"/><line x1="360.48" y1="216.47" x2="370.28" y2="216.47"/><line x1="372.76" y1="216.47" x2="382.56" y2="216.47"/><line x1="385.04" y1="216.47" x2="394.84" y2="216.47"/><line x1="397.32" y1="216.47" x2="407.12" y2="216.47"/><line x1="409.6" y1="216.47" x2="419.4" y2="216.47"/><line x1="421.88" y1="216.47" x2="431.68" y2="216.47"/><line x1="434.16" y1="216.47" x2="443.96" y2="216.47"/><line x1="446.44" y1="216.47" x2="456.24" y2="216.47"/><line x1="458.72" y1="216.47" x2="468.52" y2="216.47"/><line x1="471" y1="216.47" x2="480.8" y2="216.47"/><line x1="483.28" y1="216.47" x2="493.08" y2="216.47"/><line x1="495.56" y1="216.47" x2="505.36" y2="216.47"/><line x1="507.84" y1="216.47" x2="517.64" y2="216.47"/><line x1="520.12" y1="216.47" x2="529.92" y2="216.47"/><line x1="532.4" y1="216.47" x2="542.2" y2="216.47"/><line x1="544.68" y1="216.47" x2="554.48" y2="216.47"/><line x1="556.96" y1="216.47" x2="566.76" y2="216.47"/><line x1="569.24" y1="216.47" x2="579.04" y2="216.47"/><line x1="581.52" y1="216.47" x2="591.32" y2="216.47"/></g><g fill="#ff0000"><path d="M353.1 209.2L355.6 211.7L353.1 214.2L350.6 211.7Z"/><path d="M365.38 202.76L367.88 205.26L365.38 207.76L362.88 205.26Z"/><path d="M377.66 204.43L380.16 206.93L377.66 209.43L375.16 206.93Z"/><path d="M389.94 205.38L392.44 207.88L389.94 210.38L387.44 207.88Z"/><path d="M402.22 205.86L404.72 208.36L402.22 210.86L399.72 208.36Z"/><path d="M414.5 205.86L417 208.36L414.5 210.86L412 208.36Z"/><path d="M426.78 205.86L429.28 208.36L426.78 210.86L424.28 208.36Z"/><path d="M439.06 205.38L441.56 207.88L439.06 210.38L436.56 207.88Z"/><path d="M451.34 203.95L453.84 206.45L451.34 208.95L448.84 206.45Z"/><path d="M463.62 203.95L466.12 206.45L463.62 208.95L461.12 206.45Z"/><path d="M475.9 203L478.4 205.5L475.9 208L473.4 205.5Z"/><path d="M488.18 203L490.68 205.5L488.18 208L485.68 205.5Z"/><path d="M500.46 201.57L502.96 204.07L500.46 206.57L497.96 204.07Z"/><path d="M512.74 202.04L515.24 204.54L512.74 207.04L510.24 204.54Z"/><path d="M525.02 201.57L527.52 204.07L525.02 206.57L522.52 204.07Z"/><path d="M537.3 201.57L539.8 204.07L537.3 206.57L534.8 204.07Z"/><path d="M549.58 201.57L552.08 204.07L549.58 206.57L547.08 204.07Z"/><path d="M561.86 201.57L564.36 204.07L561.86 206.57L559.36 204.07Z"/><path d="M574.14 201.57L576.64 204.07L574.14 206.57L571.64 204.07Z"/><path d="M586.42 209.2L588.92 211.7L586.42 214.2L583.92 211.7Z"/></g><g stroke="#777" stroke-width="0.9"><line x1="353.1" y1="263.3" x2="353.1" y2="267.3" stroke-opacity="1"/><line x1="365.38" y1="263.3" x2="365.38" y2="267.3" stroke-opacity="1"/><line x1="377.66" y1="263.3" x2="377.66" y2="267.3" stroke-opacity="1"/><line x1="389.94" y1="263.3" x2="389.94" y2="267.3" stroke-opacity="1"/><line x1="402.22" y1="263.3" x2="402.22" y2="267.3" stroke-opacity="0.3"/><line x1="414.5" y1="263.3" x2="414.5" y2="267.3" stroke-opacity="1"/><line x1="426.78" y1="263.3" x2="426.78" y2="267.3" stroke-opacity="1"/><line x1="439.06" y1="263.3" x2="439.06" y2="267.3" stroke-opacity="1"/><line x1="451.34" y1="263.3" x2="451.34" y2="267.3" stroke-opacity="1"/><line x1="463.62" y1="263.3" x2="463.62" y2="267.3" stroke-opacity="1"/><line x1="475.9" y1="263.3" x2="475.9" y2="267.3" stroke-opacity="0.35"/><line x1="488.18" y1="263.3" x2="488.18" y2="267.3" stroke-opacity="0.65"/><line x1="500.46" y1="263.3" x2="500.46" y2="267.3" stroke-opacity="1"/><line x1="512.74" y1="263.3" x2="512.74" y2="267.3" stroke-opacity="1"/><line x1="525.02" y1="263.3" x2="525.02" y2="267.3" stroke-opacity="1"/><line x1="537.3" y1="263.3" x2="537.3" y2="267.3" stroke-opacity="0.25"/><line x1="549.58" y1="263.3" x2="549.58" y2="267.3" stroke-opacity="0.35"/><line x1="561.86" y1="263.3" x2="561.86" y2="267.3" stroke-opacity="1"/><line x1="574.14" y1="263.3" x2="574.14" y2="267.3" stroke-opacity="1"/><line x1="586.42" y1="263.3" x2="586.42" y2="267.3" stroke-opacity="1"/></g><rect x="337.3" y="22.1" width="264" height="241.2" fill="none" stroke="#a6a6a6" stroke-width="1"/>
<g stroke="#777" stroke-width="0.9"><line x1="34.6" y1="256" x2="39" y2="256" stroke-opacity="1"/><line x1="34.6" y1="224.07" x2="39" y2="224.07" stroke-opacity="0.3"/><line x1="34.6" y1="192.14" x2="39" y2="192.14" stroke-opacity="1"/><line x1="34.6" y1="160.21" x2="39" y2="160.21" stroke-opacity="1"/><line x1="34.6" y1="128.28" x2="39" y2="128.28" stroke-opacity="1"/><line x1="34.6" y1="96.35" x2="39" y2="96.35" stroke-opacity="1"/><line x1="34.6" y1="64.42" x2="39" y2="64.42" stroke-opacity="0.3"/><line x1="34.6" y1="32.49" x2="39" y2="32.49" stroke-opacity="1"/><line x1="333" y1="259.4" x2="337.3" y2="259.4"/><line x1="333" y1="211.7" x2="337.3" y2="211.7"/><line x1="333" y1="164" x2="337.3" y2="164"/><line x1="333" y1="116.3" x2="337.3" y2="116.3"/><line x1="333" y1="68.6" x2="337.3" y2="68.6"/></g>
<g font-family="Liberation Sans" font-size="11.7" text-anchor="middle" fill="#000" stroke="#000" stroke-width="0.15"><text transform="translate(29 256) rotate(-90)">0</text><text transform="translate(29 224.07) rotate(-90)">20</text><text transform="translate(29 192.14) rotate(-90)">40</text><text transform="translate(29 160.21) rotate(-90)">60</text><text transform="translate(29 128.28) rotate(-90)">80</text><text transform="translate(29 96.35) rotate(-90)">100</text><text transform="translate(29 64.42) rotate(-90)">120</text><text transform="translate(29 32.49) rotate(-90)">140</text><text transform="translate(328 259.4) rotate(-90)">0</text><text transform="translate(328 211.7) rotate(-90)">10</text><text transform="translate(328 164) rotate(-90)">20</text><text transform="translate(328 116.3) rotate(-90)">30</text><text transform="translate(328 68.6) rotate(-90)">40</text></g>
<g font-family="Liberation Sans" font-size="11.7" text-anchor="middle" fill="#000" stroke="#000" stroke-width="0.15"><text x="54.6" y="277.5">0.05</text><text x="353.1" y="277.5">0.05</text><text x="91.44" y="277.5">0.2</text><text x="389.94" y="277.5">0.2</text><text x="128.28" y="277.5">0.35</text><text x="426.78" y="277.5">0.35</text><text x="165.12" y="277.5">0.5</text><text x="463.62" y="277.5">0.5</text><text x="201.96" y="277.5">0.65</text><text x="500.46" y="277.5">0.65</text><text x="238.8" y="277.5">0.8</text><text x="537.3" y="277.5">0.8</text><text x="275.64" y="277.5">0.95</text><text x="574.14" y="277.5">0.95</text></g>
<g font-family="Liberation Serif" fill="#000" stroke="#000" stroke-width="0.25"><text x="21.5" y="7.3" font-size="11">(a) Mammal</text><text x="320" y="10" font-size="11">(b) Amphibian</text><text x="328" y="300.2" font-size="16.5" text-anchor="middle">Urbanization Intensity</text><text transform="translate(12 135.2) rotate(-90)" font-size="16.8" text-anchor="middle">Richness</text></g>
</svg>
</body></html>
